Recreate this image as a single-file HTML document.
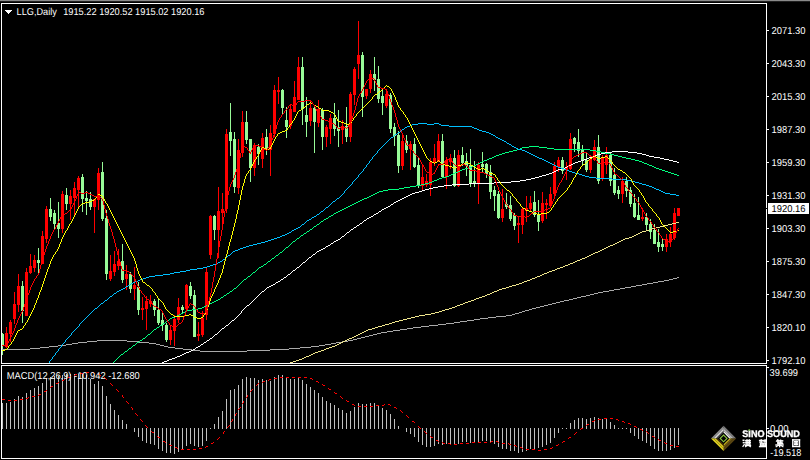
<!DOCTYPE html><html><head><meta charset="utf-8"><title>LLG Daily</title><style>
html,body{margin:0;padding:0;background:#000;}
body{width:810px;height:460px;overflow:hidden;position:relative;font-family:"Liberation Sans",sans-serif;}
svg{position:absolute;left:0;top:0;}
.t{position:absolute;color:#fff;font-size:9.5px;line-height:10px;white-space:pre;letter-spacing:-0.2px;}
</style></head><body>
<svg width="810" height="460" viewBox="0 0 810 460" shape-rendering="crispEdges">
<rect x="0" y="0" width="810" height="460" fill="#000"/>
<rect x="0" y="0" width="810" height="1" fill="#8a8a8a"/>
<rect x="0" y="1" width="810" height="1" fill="#202020"/>
<rect x="767" y="30" width="2" height="1" fill="#fff"/>
<rect x="767" y="63" width="2" height="1" fill="#fff"/>
<rect x="767" y="96" width="2" height="1" fill="#fff"/>
<rect x="767" y="129" width="2" height="1" fill="#fff"/>
<rect x="767" y="162" width="2" height="1" fill="#fff"/>
<rect x="767" y="195" width="2" height="1" fill="#fff"/>
<rect x="767" y="228" width="2" height="1" fill="#fff"/>
<rect x="767" y="261" width="2" height="1" fill="#fff"/>
<rect x="767" y="294" width="2" height="1" fill="#fff"/>
<rect x="767" y="327" width="2" height="1" fill="#fff"/>
<rect x="767" y="360" width="2" height="1" fill="#fff"/>
<rect x="767" y="367" width="2" height="1" fill="#fff"/>
<rect x="767" y="428" width="2" height="1" fill="#fff"/>
<polygon points="5,10 12.5,10 8.75,14.3" fill="#fff"/>
<rect x="768" y="203" width="41" height="11" fill="#fff"/><rect x="766" y="208" width="1" height="1" fill="#000"/>
<rect x="2" y="403" width="1" height="26" fill="#c0c0c0"/>
<rect x="6" y="403" width="1" height="26" fill="#c0c0c0"/>
<rect x="10" y="402" width="1" height="27" fill="#c0c0c0"/>
<rect x="14" y="399" width="1" height="30" fill="#c0c0c0"/>
<rect x="18" y="396" width="1" height="33" fill="#c0c0c0"/>
<rect x="22" y="397" width="1" height="32" fill="#c0c0c0"/>
<rect x="26" y="393" width="1" height="36" fill="#c0c0c0"/>
<rect x="30" y="390" width="1" height="39" fill="#c0c0c0"/>
<rect x="34" y="388" width="1" height="41" fill="#c0c0c0"/>
<rect x="38" y="386" width="1" height="43" fill="#c0c0c0"/>
<rect x="42" y="383" width="1" height="46" fill="#c0c0c0"/>
<rect x="46" y="378" width="1" height="51" fill="#c0c0c0"/>
<rect x="50" y="377" width="1" height="52" fill="#c0c0c0"/>
<rect x="54" y="376" width="1" height="53" fill="#c0c0c0"/>
<rect x="58" y="376" width="1" height="53" fill="#c0c0c0"/>
<rect x="62" y="375" width="1" height="54" fill="#c0c0c0"/>
<rect x="66" y="374" width="1" height="55" fill="#c0c0c0"/>
<rect x="70" y="374" width="1" height="55" fill="#c0c0c0"/>
<rect x="74" y="374" width="1" height="55" fill="#c0c0c0"/>
<rect x="78" y="374" width="1" height="55" fill="#c0c0c0"/>
<rect x="82" y="374" width="1" height="55" fill="#c0c0c0"/>
<rect x="86" y="375" width="1" height="54" fill="#c0c0c0"/>
<rect x="90" y="379" width="1" height="50" fill="#c0c0c0"/>
<rect x="94" y="384" width="1" height="45" fill="#c0c0c0"/>
<rect x="98" y="381" width="1" height="48" fill="#c0c0c0"/>
<rect x="102" y="386" width="1" height="43" fill="#c0c0c0"/>
<rect x="106" y="396" width="1" height="33" fill="#c0c0c0"/>
<rect x="110" y="404" width="1" height="25" fill="#c0c0c0"/>
<rect x="114" y="410" width="1" height="19" fill="#c0c0c0"/>
<rect x="118" y="415" width="1" height="14" fill="#c0c0c0"/>
<rect x="122" y="420" width="1" height="9" fill="#c0c0c0"/>
<rect x="126" y="424" width="1" height="5" fill="#c0c0c0"/>
<rect x="134" y="428" width="1" height="4" fill="#c0c0c0"/>
<rect x="138" y="428" width="1" height="9" fill="#c0c0c0"/>
<rect x="142" y="428" width="1" height="13" fill="#c0c0c0"/>
<rect x="146" y="428" width="1" height="15" fill="#c0c0c0"/>
<rect x="150" y="428" width="1" height="16" fill="#c0c0c0"/>
<rect x="154" y="428" width="1" height="17" fill="#c0c0c0"/>
<rect x="158" y="428" width="1" height="21" fill="#c0c0c0"/>
<rect x="162" y="428" width="1" height="23" fill="#c0c0c0"/>
<rect x="166" y="428" width="1" height="25" fill="#c0c0c0"/>
<rect x="170" y="428" width="1" height="25" fill="#c0c0c0"/>
<rect x="174" y="428" width="1" height="26" fill="#c0c0c0"/>
<rect x="178" y="428" width="1" height="24" fill="#c0c0c0"/>
<rect x="182" y="428" width="1" height="22" fill="#c0c0c0"/>
<rect x="186" y="428" width="1" height="18" fill="#c0c0c0"/>
<rect x="190" y="428" width="1" height="16" fill="#c0c0c0"/>
<rect x="194" y="428" width="1" height="18" fill="#c0c0c0"/>
<rect x="198" y="428" width="1" height="19" fill="#c0c0c0"/>
<rect x="202" y="428" width="1" height="18" fill="#c0c0c0"/>
<rect x="206" y="428" width="1" height="13" fill="#c0c0c0"/>
<rect x="210" y="428" width="1" height="1" fill="#c0c0c0"/>
<rect x="214" y="424" width="1" height="5" fill="#c0c0c0"/>
<rect x="218" y="417" width="1" height="12" fill="#c0c0c0"/>
<rect x="222" y="411" width="1" height="18" fill="#c0c0c0"/>
<rect x="226" y="399" width="1" height="30" fill="#c0c0c0"/>
<rect x="230" y="390" width="1" height="39" fill="#c0c0c0"/>
<rect x="234" y="389" width="1" height="40" fill="#c0c0c0"/>
<rect x="238" y="385" width="1" height="44" fill="#c0c0c0"/>
<rect x="242" y="379" width="1" height="50" fill="#c0c0c0"/>
<rect x="246" y="377" width="1" height="52" fill="#c0c0c0"/>
<rect x="250" y="378" width="1" height="51" fill="#c0c0c0"/>
<rect x="254" y="378" width="1" height="51" fill="#c0c0c0"/>
<rect x="258" y="380" width="1" height="49" fill="#c0c0c0"/>
<rect x="262" y="379" width="1" height="50" fill="#c0c0c0"/>
<rect x="266" y="380" width="1" height="49" fill="#c0c0c0"/>
<rect x="270" y="381" width="1" height="48" fill="#c0c0c0"/>
<rect x="274" y="377" width="1" height="52" fill="#c0c0c0"/>
<rect x="278" y="375" width="1" height="54" fill="#c0c0c0"/>
<rect x="282" y="375" width="1" height="54" fill="#c0c0c0"/>
<rect x="286" y="377" width="1" height="52" fill="#c0c0c0"/>
<rect x="290" y="379" width="1" height="50" fill="#c0c0c0"/>
<rect x="294" y="379" width="1" height="50" fill="#c0c0c0"/>
<rect x="298" y="378" width="1" height="51" fill="#c0c0c0"/>
<rect x="302" y="380" width="1" height="49" fill="#c0c0c0"/>
<rect x="306" y="384" width="1" height="45" fill="#c0c0c0"/>
<rect x="310" y="387" width="1" height="42" fill="#c0c0c0"/>
<rect x="314" y="390" width="1" height="39" fill="#c0c0c0"/>
<rect x="318" y="393" width="1" height="36" fill="#c0c0c0"/>
<rect x="322" y="397" width="1" height="32" fill="#c0c0c0"/>
<rect x="326" y="401" width="1" height="28" fill="#c0c0c0"/>
<rect x="330" y="403" width="1" height="26" fill="#c0c0c0"/>
<rect x="334" y="405" width="1" height="24" fill="#c0c0c0"/>
<rect x="338" y="408" width="1" height="21" fill="#c0c0c0"/>
<rect x="342" y="410" width="1" height="19" fill="#c0c0c0"/>
<rect x="346" y="413" width="1" height="16" fill="#c0c0c0"/>
<rect x="350" y="411" width="1" height="18" fill="#c0c0c0"/>
<rect x="354" y="407" width="1" height="22" fill="#c0c0c0"/>
<rect x="358" y="403" width="1" height="26" fill="#c0c0c0"/>
<rect x="362" y="404" width="1" height="25" fill="#c0c0c0"/>
<rect x="366" y="404" width="1" height="25" fill="#c0c0c0"/>
<rect x="370" y="403" width="1" height="26" fill="#c0c0c0"/>
<rect x="374" y="403" width="1" height="26" fill="#c0c0c0"/>
<rect x="378" y="406" width="1" height="23" fill="#c0c0c0"/>
<rect x="382" y="408" width="1" height="21" fill="#c0c0c0"/>
<rect x="386" y="410" width="1" height="19" fill="#c0c0c0"/>
<rect x="390" y="414" width="1" height="15" fill="#c0c0c0"/>
<rect x="394" y="419" width="1" height="10" fill="#c0c0c0"/>
<rect x="398" y="426" width="1" height="3" fill="#c0c0c0"/>
<rect x="406" y="428" width="1" height="4" fill="#c0c0c0"/>
<rect x="410" y="428" width="1" height="6" fill="#c0c0c0"/>
<rect x="414" y="428" width="1" height="9" fill="#c0c0c0"/>
<rect x="418" y="428" width="1" height="14" fill="#c0c0c0"/>
<rect x="422" y="428" width="1" height="17" fill="#c0c0c0"/>
<rect x="426" y="428" width="1" height="19" fill="#c0c0c0"/>
<rect x="430" y="428" width="1" height="19" fill="#c0c0c0"/>
<rect x="434" y="428" width="1" height="18" fill="#c0c0c0"/>
<rect x="438" y="428" width="1" height="16" fill="#c0c0c0"/>
<rect x="442" y="428" width="1" height="17" fill="#c0c0c0"/>
<rect x="446" y="428" width="1" height="16" fill="#c0c0c0"/>
<rect x="450" y="428" width="1" height="16" fill="#c0c0c0"/>
<rect x="454" y="428" width="1" height="17" fill="#c0c0c0"/>
<rect x="458" y="428" width="1" height="16" fill="#c0c0c0"/>
<rect x="462" y="428" width="1" height="14" fill="#c0c0c0"/>
<rect x="466" y="428" width="1" height="14" fill="#c0c0c0"/>
<rect x="470" y="428" width="1" height="15" fill="#c0c0c0"/>
<rect x="474" y="428" width="1" height="15" fill="#c0c0c0"/>
<rect x="478" y="428" width="1" height="14" fill="#c0c0c0"/>
<rect x="482" y="428" width="1" height="13" fill="#c0c0c0"/>
<rect x="486" y="428" width="1" height="13" fill="#c0c0c0"/>
<rect x="490" y="428" width="1" height="14" fill="#c0c0c0"/>
<rect x="494" y="428" width="1" height="16" fill="#c0c0c0"/>
<rect x="498" y="428" width="1" height="19" fill="#c0c0c0"/>
<rect x="502" y="428" width="1" height="21" fill="#c0c0c0"/>
<rect x="506" y="428" width="1" height="21" fill="#c0c0c0"/>
<rect x="510" y="428" width="1" height="23" fill="#c0c0c0"/>
<rect x="514" y="428" width="1" height="23" fill="#c0c0c0"/>
<rect x="518" y="428" width="1" height="25" fill="#c0c0c0"/>
<rect x="522" y="428" width="1" height="24" fill="#c0c0c0"/>
<rect x="526" y="428" width="1" height="23" fill="#c0c0c0"/>
<rect x="530" y="428" width="1" height="21" fill="#c0c0c0"/>
<rect x="534" y="428" width="1" height="21" fill="#c0c0c0"/>
<rect x="538" y="428" width="1" height="20" fill="#c0c0c0"/>
<rect x="542" y="428" width="1" height="19" fill="#c0c0c0"/>
<rect x="546" y="428" width="1" height="17" fill="#c0c0c0"/>
<rect x="550" y="428" width="1" height="15" fill="#c0c0c0"/>
<rect x="554" y="428" width="1" height="10" fill="#c0c0c0"/>
<rect x="558" y="428" width="1" height="5" fill="#c0c0c0"/>
<rect x="562" y="428" width="1" height="1" fill="#c0c0c0"/>
<rect x="566" y="428" width="1" height="1" fill="#c0c0c0"/>
<rect x="570" y="423" width="1" height="6" fill="#c0c0c0"/>
<rect x="574" y="420" width="1" height="9" fill="#c0c0c0"/>
<rect x="578" y="418" width="1" height="11" fill="#c0c0c0"/>
<rect x="582" y="418" width="1" height="11" fill="#c0c0c0"/>
<rect x="586" y="419" width="1" height="10" fill="#c0c0c0"/>
<rect x="590" y="418" width="1" height="11" fill="#c0c0c0"/>
<rect x="594" y="417" width="1" height="12" fill="#c0c0c0"/>
<rect x="598" y="418" width="1" height="11" fill="#c0c0c0"/>
<rect x="602" y="419" width="1" height="10" fill="#c0c0c0"/>
<rect x="606" y="419" width="1" height="10" fill="#c0c0c0"/>
<rect x="610" y="422" width="1" height="7" fill="#c0c0c0"/>
<rect x="614" y="425" width="1" height="4" fill="#c0c0c0"/>
<rect x="618" y="428" width="1" height="1" fill="#c0c0c0"/>
<rect x="622" y="428" width="1" height="1" fill="#c0c0c0"/>
<rect x="626" y="428" width="1" height="1" fill="#c0c0c0"/>
<rect x="630" y="428" width="1" height="5" fill="#c0c0c0"/>
<rect x="634" y="428" width="1" height="8" fill="#c0c0c0"/>
<rect x="638" y="428" width="1" height="11" fill="#c0c0c0"/>
<rect x="642" y="428" width="1" height="13" fill="#c0c0c0"/>
<rect x="646" y="428" width="1" height="15" fill="#c0c0c0"/>
<rect x="650" y="428" width="1" height="18" fill="#c0c0c0"/>
<rect x="654" y="428" width="1" height="21" fill="#c0c0c0"/>
<rect x="658" y="428" width="1" height="23" fill="#c0c0c0"/>
<rect x="662" y="428" width="1" height="23" fill="#c0c0c0"/>
<rect x="666" y="428" width="1" height="23" fill="#c0c0c0"/>
<rect x="670" y="428" width="1" height="22" fill="#c0c0c0"/>
<rect x="674" y="428" width="1" height="20" fill="#c0c0c0"/>
<rect x="678" y="428" width="1" height="17" fill="#c0c0c0"/>
<rect x="2" y="333" width="1" height="22" fill="#98fb98"/>
<rect x="1" y="334" width="3" height="12" fill="#98fb98"/>
<rect x="6" y="327" width="1" height="21" fill="#ff0000"/>
<rect x="5" y="333" width="3" height="14" fill="#ff0000"/>
<rect x="10" y="320" width="1" height="22" fill="#ff0000"/>
<rect x="9" y="322" width="3" height="12" fill="#ff0000"/>
<rect x="14" y="292" width="1" height="32" fill="#ff0000"/>
<rect x="13" y="304" width="3" height="15" fill="#ff0000"/>
<rect x="18" y="274" width="1" height="38" fill="#ff0000"/>
<rect x="17" y="286" width="3" height="19" fill="#ff0000"/>
<rect x="22" y="281" width="1" height="42" fill="#98fb98"/>
<rect x="21" y="286" width="3" height="25" fill="#98fb98"/>
<rect x="26" y="268" width="1" height="48" fill="#ff0000"/>
<rect x="25" y="272" width="3" height="44" fill="#ff0000"/>
<rect x="30" y="254" width="1" height="20" fill="#ff0000"/>
<rect x="29" y="266" width="3" height="7" fill="#ff0000"/>
<rect x="34" y="255" width="1" height="17" fill="#ff0000"/>
<rect x="33" y="260" width="3" height="8" fill="#ff0000"/>
<rect x="38" y="248" width="1" height="25" fill="#98fb98"/>
<rect x="37" y="260" width="3" height="3" fill="#98fb98"/>
<rect x="42" y="231" width="1" height="33" fill="#ff0000"/>
<rect x="41" y="236" width="3" height="28" fill="#ff0000"/>
<rect x="46" y="206" width="1" height="37" fill="#ff0000"/>
<rect x="45" y="209" width="3" height="30" fill="#ff0000"/>
<rect x="50" y="198" width="1" height="23" fill="#98fb98"/>
<rect x="49" y="209" width="3" height="8" fill="#98fb98"/>
<rect x="54" y="210" width="1" height="19" fill="#98fb98"/>
<rect x="53" y="213" width="3" height="11" fill="#98fb98"/>
<rect x="58" y="202" width="1" height="36" fill="#98fb98"/>
<rect x="57" y="223" width="3" height="6" fill="#98fb98"/>
<rect x="62" y="191" width="1" height="42" fill="#ff0000"/>
<rect x="61" y="194" width="3" height="35" fill="#ff0000"/>
<rect x="66" y="188" width="1" height="22" fill="#98fb98"/>
<rect x="65" y="195" width="3" height="9" fill="#98fb98"/>
<rect x="70" y="190" width="1" height="30" fill="#ff0000"/>
<rect x="69" y="196" width="3" height="8" fill="#ff0000"/>
<rect x="74" y="182" width="1" height="33" fill="#ff0000"/>
<rect x="73" y="188" width="3" height="10" fill="#ff0000"/>
<rect x="78" y="176" width="1" height="32" fill="#ff0000"/>
<rect x="77" y="178" width="3" height="12" fill="#ff0000"/>
<rect x="82" y="174" width="1" height="38" fill="#98fb98"/>
<rect x="81" y="177" width="3" height="22" fill="#98fb98"/>
<rect x="86" y="191" width="1" height="24" fill="#98fb98"/>
<rect x="85" y="198" width="3" height="3" fill="#98fb98"/>
<rect x="90" y="192" width="1" height="18" fill="#98fb98"/>
<rect x="89" y="199" width="3" height="8" fill="#98fb98"/>
<rect x="94" y="199" width="1" height="34" fill="#ff0000"/>
<rect x="93" y="199" width="3" height="8" fill="#ff0000"/>
<rect x="98" y="168" width="1" height="42" fill="#ff0000"/>
<rect x="97" y="173" width="3" height="27" fill="#ff0000"/>
<rect x="102" y="162" width="1" height="59" fill="#98fb98"/>
<rect x="101" y="172" width="3" height="47" fill="#98fb98"/>
<rect x="106" y="210" width="1" height="70" fill="#98fb98"/>
<rect x="105" y="218" width="3" height="56" fill="#98fb98"/>
<rect x="110" y="255" width="1" height="26" fill="#ff0000"/>
<rect x="109" y="271" width="3" height="8" fill="#ff0000"/>
<rect x="114" y="251" width="1" height="25" fill="#ff0000"/>
<rect x="113" y="264" width="3" height="8" fill="#ff0000"/>
<rect x="118" y="249" width="1" height="21" fill="#ff0000"/>
<rect x="117" y="261" width="3" height="5" fill="#ff0000"/>
<rect x="122" y="244" width="1" height="39" fill="#98fb98"/>
<rect x="121" y="261" width="3" height="19" fill="#98fb98"/>
<rect x="126" y="265" width="1" height="25" fill="#ff0000"/>
<rect x="125" y="274" width="3" height="5" fill="#ff0000"/>
<rect x="130" y="272" width="1" height="21" fill="#98fb98"/>
<rect x="129" y="274" width="3" height="15" fill="#98fb98"/>
<rect x="134" y="267" width="1" height="33" fill="#ff0000"/>
<rect x="133" y="285" width="3" height="4" fill="#ff0000"/>
<rect x="138" y="282" width="1" height="33" fill="#98fb98"/>
<rect x="137" y="287" width="3" height="23" fill="#98fb98"/>
<rect x="142" y="297" width="1" height="23" fill="#ff0000"/>
<rect x="141" y="308" width="3" height="2" fill="#ff0000"/>
<rect x="146" y="296" width="1" height="34" fill="#ff0000"/>
<rect x="145" y="301" width="3" height="8" fill="#ff0000"/>
<rect x="150" y="295" width="1" height="12" fill="#ff0000"/>
<rect x="149" y="301" width="3" height="3" fill="#ff0000"/>
<rect x="154" y="299" width="1" height="17" fill="#98fb98"/>
<rect x="153" y="301" width="3" height="9" fill="#98fb98"/>
<rect x="158" y="298" width="1" height="27" fill="#98fb98"/>
<rect x="157" y="310" width="3" height="13" fill="#98fb98"/>
<rect x="162" y="312" width="1" height="19" fill="#98fb98"/>
<rect x="161" y="320" width="3" height="5" fill="#98fb98"/>
<rect x="166" y="323" width="1" height="19" fill="#98fb98"/>
<rect x="165" y="325" width="3" height="15" fill="#98fb98"/>
<rect x="170" y="325" width="1" height="20" fill="#ff0000"/>
<rect x="169" y="330" width="3" height="10" fill="#ff0000"/>
<rect x="174" y="315" width="1" height="31" fill="#ff0000"/>
<rect x="173" y="319" width="3" height="12" fill="#ff0000"/>
<rect x="178" y="298" width="1" height="25" fill="#ff0000"/>
<rect x="177" y="307" width="3" height="13" fill="#ff0000"/>
<rect x="182" y="305" width="1" height="9" fill="#98fb98"/>
<rect x="181" y="307" width="3" height="3" fill="#98fb98"/>
<rect x="186" y="284" width="1" height="26" fill="#ff0000"/>
<rect x="185" y="285" width="3" height="24" fill="#ff0000"/>
<rect x="190" y="282" width="1" height="17" fill="#98fb98"/>
<rect x="189" y="286" width="3" height="10" fill="#98fb98"/>
<rect x="194" y="290" width="1" height="47" fill="#98fb98"/>
<rect x="193" y="295" width="3" height="42" fill="#98fb98"/>
<rect x="198" y="322" width="1" height="19" fill="#ff0000"/>
<rect x="197" y="334" width="3" height="2" fill="#ff0000"/>
<rect x="202" y="311" width="1" height="26" fill="#ff0000"/>
<rect x="201" y="318" width="3" height="17" fill="#ff0000"/>
<rect x="206" y="268" width="1" height="52" fill="#ff0000"/>
<rect x="205" y="272" width="3" height="43" fill="#ff0000"/>
<rect x="210" y="215" width="1" height="44" fill="#ff0000"/>
<rect x="209" y="216" width="3" height="39" fill="#ff0000"/>
<rect x="214" y="215" width="1" height="25" fill="#98fb98"/>
<rect x="213" y="216" width="3" height="14" fill="#98fb98"/>
<rect x="218" y="187" width="1" height="71" fill="#ff0000"/>
<rect x="217" y="211" width="3" height="19" fill="#ff0000"/>
<rect x="222" y="193" width="1" height="37" fill="#ff0000"/>
<rect x="221" y="209" width="3" height="4" fill="#ff0000"/>
<rect x="226" y="129" width="1" height="84" fill="#ff0000"/>
<rect x="225" y="134" width="3" height="75" fill="#ff0000"/>
<rect x="230" y="103" width="1" height="53" fill="#98fb98"/>
<rect x="229" y="132" width="3" height="9" fill="#98fb98"/>
<rect x="234" y="132" width="1" height="61" fill="#98fb98"/>
<rect x="233" y="139" width="3" height="48" fill="#98fb98"/>
<rect x="238" y="139" width="1" height="55" fill="#ff0000"/>
<rect x="237" y="150" width="3" height="38" fill="#ff0000"/>
<rect x="242" y="111" width="1" height="46" fill="#ff0000"/>
<rect x="241" y="122" width="3" height="31" fill="#ff0000"/>
<rect x="246" y="111" width="1" height="33" fill="#98fb98"/>
<rect x="245" y="122" width="3" height="18" fill="#98fb98"/>
<rect x="250" y="139" width="1" height="43" fill="#98fb98"/>
<rect x="249" y="139" width="3" height="29" fill="#98fb98"/>
<rect x="254" y="143" width="1" height="33" fill="#ff0000"/>
<rect x="253" y="145" width="3" height="23" fill="#ff0000"/>
<rect x="258" y="144" width="1" height="21" fill="#98fb98"/>
<rect x="257" y="147" width="3" height="7" fill="#98fb98"/>
<rect x="262" y="133" width="1" height="35" fill="#ff0000"/>
<rect x="261" y="138" width="3" height="21" fill="#ff0000"/>
<rect x="266" y="129" width="1" height="26" fill="#98fb98"/>
<rect x="265" y="137" width="3" height="13" fill="#98fb98"/>
<rect x="270" y="125" width="1" height="51" fill="#ff0000"/>
<rect x="269" y="133" width="3" height="17" fill="#ff0000"/>
<rect x="274" y="85" width="1" height="52" fill="#ff0000"/>
<rect x="273" y="90" width="3" height="44" fill="#ff0000"/>
<rect x="278" y="77" width="1" height="27" fill="#ff0000"/>
<rect x="277" y="90" width="3" height="2" fill="#ff0000"/>
<rect x="282" y="89" width="1" height="25" fill="#98fb98"/>
<rect x="281" y="90" width="3" height="18" fill="#98fb98"/>
<rect x="286" y="107" width="1" height="31" fill="#98fb98"/>
<rect x="285" y="120" width="3" height="7" fill="#98fb98"/>
<rect x="290" y="105" width="1" height="24" fill="#ff0000"/>
<rect x="289" y="109" width="3" height="17" fill="#ff0000"/>
<rect x="294" y="81" width="1" height="31" fill="#ff0000"/>
<rect x="293" y="97" width="3" height="15" fill="#ff0000"/>
<rect x="298" y="57" width="1" height="43" fill="#ff0000"/>
<rect x="297" y="67" width="3" height="33" fill="#ff0000"/>
<rect x="302" y="57" width="1" height="68" fill="#98fb98"/>
<rect x="301" y="67" width="3" height="42" fill="#98fb98"/>
<rect x="306" y="97" width="1" height="40" fill="#98fb98"/>
<rect x="305" y="115" width="3" height="7" fill="#98fb98"/>
<rect x="310" y="100" width="1" height="26" fill="#ff0000"/>
<rect x="309" y="108" width="3" height="13" fill="#ff0000"/>
<rect x="314" y="106" width="1" height="47" fill="#98fb98"/>
<rect x="313" y="108" width="3" height="14" fill="#98fb98"/>
<rect x="318" y="100" width="1" height="27" fill="#ff0000"/>
<rect x="317" y="109" width="3" height="14" fill="#ff0000"/>
<rect x="322" y="108" width="1" height="42" fill="#98fb98"/>
<rect x="321" y="110" width="3" height="27" fill="#98fb98"/>
<rect x="326" y="125" width="1" height="22" fill="#ff0000"/>
<rect x="325" y="127" width="3" height="10" fill="#ff0000"/>
<rect x="330" y="114" width="1" height="30" fill="#ff0000"/>
<rect x="329" y="118" width="3" height="11" fill="#ff0000"/>
<rect x="334" y="103" width="1" height="33" fill="#98fb98"/>
<rect x="333" y="118" width="3" height="11" fill="#98fb98"/>
<rect x="338" y="110" width="1" height="37" fill="#98fb98"/>
<rect x="337" y="127" width="3" height="4" fill="#98fb98"/>
<rect x="342" y="120" width="1" height="24" fill="#ff0000"/>
<rect x="341" y="126" width="3" height="4" fill="#ff0000"/>
<rect x="346" y="107" width="1" height="35" fill="#98fb98"/>
<rect x="345" y="126" width="3" height="11" fill="#98fb98"/>
<rect x="350" y="92" width="1" height="50" fill="#ff0000"/>
<rect x="349" y="94" width="3" height="43" fill="#ff0000"/>
<rect x="354" y="67" width="1" height="38" fill="#ff0000"/>
<rect x="353" y="69" width="3" height="26" fill="#ff0000"/>
<rect x="358" y="21" width="1" height="58" fill="#ff0000"/>
<rect x="357" y="55" width="3" height="9" fill="#ff0000"/>
<rect x="362" y="52" width="1" height="65" fill="#98fb98"/>
<rect x="361" y="55" width="3" height="42" fill="#98fb98"/>
<rect x="366" y="89" width="1" height="10" fill="#ff0000"/>
<rect x="365" y="89" width="3" height="7" fill="#ff0000"/>
<rect x="370" y="70" width="1" height="23" fill="#ff0000"/>
<rect x="369" y="74" width="3" height="15" fill="#ff0000"/>
<rect x="374" y="57" width="1" height="34" fill="#98fb98"/>
<rect x="373" y="74" width="3" height="6" fill="#98fb98"/>
<rect x="378" y="66" width="1" height="37" fill="#98fb98"/>
<rect x="377" y="79" width="3" height="20" fill="#98fb98"/>
<rect x="382" y="90" width="1" height="25" fill="#98fb98"/>
<rect x="381" y="96" width="3" height="7" fill="#98fb98"/>
<rect x="386" y="89" width="1" height="19" fill="#ff0000"/>
<rect x="385" y="94" width="3" height="12" fill="#ff0000"/>
<rect x="390" y="93" width="1" height="40" fill="#98fb98"/>
<rect x="389" y="95" width="3" height="34" fill="#98fb98"/>
<rect x="394" y="123" width="1" height="23" fill="#98fb98"/>
<rect x="393" y="127" width="3" height="9" fill="#98fb98"/>
<rect x="398" y="131" width="1" height="42" fill="#98fb98"/>
<rect x="397" y="135" width="3" height="31" fill="#98fb98"/>
<rect x="402" y="135" width="1" height="35" fill="#ff0000"/>
<rect x="401" y="141" width="3" height="25" fill="#ff0000"/>
<rect x="406" y="135" width="1" height="18" fill="#98fb98"/>
<rect x="405" y="141" width="3" height="9" fill="#98fb98"/>
<rect x="410" y="141" width="1" height="29" fill="#ff0000"/>
<rect x="409" y="144" width="3" height="5" fill="#ff0000"/>
<rect x="414" y="138" width="1" height="30" fill="#98fb98"/>
<rect x="413" y="144" width="3" height="23" fill="#98fb98"/>
<rect x="418" y="158" width="1" height="30" fill="#98fb98"/>
<rect x="417" y="165" width="3" height="21" fill="#98fb98"/>
<rect x="422" y="164" width="1" height="27" fill="#ff0000"/>
<rect x="421" y="177" width="3" height="9" fill="#ff0000"/>
<rect x="426" y="174" width="1" height="13" fill="#ff0000"/>
<rect x="425" y="181" width="3" height="4" fill="#ff0000"/>
<rect x="430" y="158" width="1" height="38" fill="#ff0000"/>
<rect x="429" y="162" width="3" height="23" fill="#ff0000"/>
<rect x="434" y="144" width="1" height="22" fill="#ff0000"/>
<rect x="433" y="158" width="3" height="5" fill="#ff0000"/>
<rect x="438" y="134" width="1" height="28" fill="#ff0000"/>
<rect x="437" y="141" width="3" height="20" fill="#ff0000"/>
<rect x="442" y="134" width="1" height="43" fill="#98fb98"/>
<rect x="441" y="141" width="3" height="36" fill="#98fb98"/>
<rect x="446" y="157" width="1" height="32" fill="#ff0000"/>
<rect x="445" y="160" width="3" height="17" fill="#ff0000"/>
<rect x="450" y="154" width="1" height="15" fill="#ff0000"/>
<rect x="449" y="158" width="3" height="4" fill="#ff0000"/>
<rect x="454" y="150" width="1" height="37" fill="#98fb98"/>
<rect x="453" y="158" width="3" height="28" fill="#98fb98"/>
<rect x="458" y="150" width="1" height="37" fill="#ff0000"/>
<rect x="457" y="155" width="3" height="31" fill="#ff0000"/>
<rect x="462" y="147" width="1" height="19" fill="#98fb98"/>
<rect x="461" y="155" width="3" height="8" fill="#98fb98"/>
<rect x="466" y="153" width="1" height="23" fill="#98fb98"/>
<rect x="465" y="161" width="3" height="5" fill="#98fb98"/>
<rect x="470" y="149" width="1" height="38" fill="#98fb98"/>
<rect x="469" y="165" width="3" height="19" fill="#98fb98"/>
<rect x="474" y="161" width="1" height="26" fill="#98fb98"/>
<rect x="473" y="181" width="3" height="3" fill="#98fb98"/>
<rect x="478" y="162" width="1" height="42" fill="#ff0000"/>
<rect x="477" y="165" width="3" height="19" fill="#ff0000"/>
<rect x="482" y="152" width="1" height="21" fill="#98fb98"/>
<rect x="481" y="164" width="3" height="3" fill="#98fb98"/>
<rect x="486" y="163" width="1" height="15" fill="#98fb98"/>
<rect x="485" y="164" width="3" height="10" fill="#98fb98"/>
<rect x="490" y="165" width="1" height="34" fill="#98fb98"/>
<rect x="489" y="172" width="3" height="20" fill="#98fb98"/>
<rect x="494" y="186" width="1" height="25" fill="#98fb98"/>
<rect x="493" y="190" width="3" height="6" fill="#98fb98"/>
<rect x="498" y="191" width="1" height="28" fill="#98fb98"/>
<rect x="497" y="194" width="3" height="24" fill="#98fb98"/>
<rect x="502" y="189" width="1" height="33" fill="#ff0000"/>
<rect x="501" y="209" width="3" height="9" fill="#ff0000"/>
<rect x="506" y="193" width="1" height="16" fill="#98fb98"/>
<rect x="505" y="204" width="3" height="3" fill="#98fb98"/>
<rect x="510" y="196" width="1" height="25" fill="#98fb98"/>
<rect x="509" y="205" width="3" height="14" fill="#98fb98"/>
<rect x="514" y="213" width="1" height="17" fill="#98fb98"/>
<rect x="513" y="215" width="3" height="11" fill="#98fb98"/>
<rect x="518" y="217" width="1" height="26" fill="#ff0000"/>
<rect x="517" y="223" width="3" height="2" fill="#ff0000"/>
<rect x="522" y="207" width="1" height="27" fill="#ff0000"/>
<rect x="521" y="209" width="3" height="16" fill="#ff0000"/>
<rect x="526" y="196" width="1" height="26" fill="#ff0000"/>
<rect x="525" y="208" width="3" height="3" fill="#ff0000"/>
<rect x="530" y="196" width="1" height="15" fill="#ff0000"/>
<rect x="529" y="203" width="3" height="6" fill="#ff0000"/>
<rect x="534" y="191" width="1" height="26" fill="#98fb98"/>
<rect x="533" y="202" width="3" height="13" fill="#98fb98"/>
<rect x="538" y="200" width="1" height="31" fill="#98fb98"/>
<rect x="537" y="214" width="3" height="8" fill="#98fb98"/>
<rect x="542" y="192" width="1" height="31" fill="#ff0000"/>
<rect x="541" y="203" width="3" height="18" fill="#ff0000"/>
<rect x="546" y="199" width="1" height="20" fill="#ff0000"/>
<rect x="545" y="203" width="3" height="2" fill="#ff0000"/>
<rect x="550" y="187" width="1" height="20" fill="#ff0000"/>
<rect x="549" y="194" width="3" height="12" fill="#ff0000"/>
<rect x="554" y="162" width="1" height="34" fill="#ff0000"/>
<rect x="553" y="166" width="3" height="28" fill="#ff0000"/>
<rect x="558" y="157" width="1" height="15" fill="#ff0000"/>
<rect x="557" y="160" width="3" height="7" fill="#ff0000"/>
<rect x="562" y="157" width="1" height="17" fill="#98fb98"/>
<rect x="561" y="160" width="3" height="11" fill="#98fb98"/>
<rect x="566" y="162" width="1" height="18" fill="#ff0000"/>
<rect x="565" y="167" width="3" height="3" fill="#ff0000"/>
<rect x="570" y="133" width="1" height="37" fill="#ff0000"/>
<rect x="569" y="139" width="3" height="30" fill="#ff0000"/>
<rect x="574" y="137" width="1" height="15" fill="#98fb98"/>
<rect x="573" y="138" width="3" height="6" fill="#98fb98"/>
<rect x="578" y="129" width="1" height="28" fill="#98fb98"/>
<rect x="577" y="142" width="3" height="9" fill="#98fb98"/>
<rect x="582" y="145" width="1" height="21" fill="#98fb98"/>
<rect x="581" y="149" width="3" height="12" fill="#98fb98"/>
<rect x="586" y="153" width="1" height="19" fill="#98fb98"/>
<rect x="585" y="160" width="3" height="10" fill="#98fb98"/>
<rect x="590" y="155" width="1" height="18" fill="#ff0000"/>
<rect x="589" y="159" width="3" height="11" fill="#ff0000"/>
<rect x="594" y="140" width="1" height="21" fill="#ff0000"/>
<rect x="593" y="147" width="3" height="13" fill="#ff0000"/>
<rect x="598" y="135" width="1" height="49" fill="#98fb98"/>
<rect x="597" y="147" width="3" height="34" fill="#98fb98"/>
<rect x="602" y="155" width="1" height="26" fill="#ff0000"/>
<rect x="601" y="158" width="3" height="21" fill="#ff0000"/>
<rect x="606" y="147" width="1" height="27" fill="#ff0000"/>
<rect x="605" y="155" width="3" height="10" fill="#ff0000"/>
<rect x="610" y="152" width="1" height="34" fill="#98fb98"/>
<rect x="609" y="155" width="3" height="26" fill="#98fb98"/>
<rect x="614" y="168" width="1" height="27" fill="#98fb98"/>
<rect x="613" y="175" width="3" height="18" fill="#98fb98"/>
<rect x="618" y="186" width="1" height="13" fill="#98fb98"/>
<rect x="617" y="190" width="3" height="4" fill="#98fb98"/>
<rect x="622" y="177" width="1" height="26" fill="#ff0000"/>
<rect x="621" y="181" width="3" height="13" fill="#ff0000"/>
<rect x="626" y="177" width="1" height="20" fill="#98fb98"/>
<rect x="625" y="181" width="3" height="10" fill="#98fb98"/>
<rect x="630" y="187" width="1" height="20" fill="#98fb98"/>
<rect x="629" y="190" width="3" height="14" fill="#98fb98"/>
<rect x="634" y="194" width="1" height="24" fill="#98fb98"/>
<rect x="633" y="203" width="3" height="14" fill="#98fb98"/>
<rect x="638" y="197" width="1" height="23" fill="#98fb98"/>
<rect x="637" y="215" width="3" height="5" fill="#98fb98"/>
<rect x="642" y="208" width="1" height="13" fill="#ff0000"/>
<rect x="641" y="217" width="3" height="2" fill="#ff0000"/>
<rect x="646" y="213" width="1" height="18" fill="#98fb98"/>
<rect x="645" y="217" width="3" height="8" fill="#98fb98"/>
<rect x="650" y="219" width="1" height="20" fill="#98fb98"/>
<rect x="649" y="224" width="3" height="8" fill="#98fb98"/>
<rect x="654" y="224" width="1" height="20" fill="#98fb98"/>
<rect x="653" y="230" width="3" height="14" fill="#98fb98"/>
<rect x="658" y="229" width="1" height="23" fill="#98fb98"/>
<rect x="657" y="242" width="3" height="5" fill="#98fb98"/>
<rect x="662" y="238" width="1" height="13" fill="#98fb98"/>
<rect x="661" y="244" width="3" height="3" fill="#98fb98"/>
<rect x="666" y="234" width="1" height="18" fill="#ff0000"/>
<rect x="665" y="239" width="3" height="8" fill="#ff0000"/>
<rect x="670" y="227" width="1" height="20" fill="#ff0000"/>
<rect x="669" y="234" width="3" height="8" fill="#ff0000"/>
<rect x="674" y="208" width="1" height="32" fill="#ff0000"/>
<rect x="673" y="213" width="3" height="25" fill="#ff0000"/>
<rect x="678" y="208" width="1" height="8" fill="#ff0000"/>
<rect x="677" y="208" width="3" height="8" fill="#ff0000"/>
<rect x="1" y="3" width="766" height="1" fill="#fff"/>
<rect x="1" y="363" width="766" height="1" fill="#fff"/>
<rect x="1" y="365" width="766" height="1" fill="#fff"/>
<rect x="1" y="458" width="766" height="1" fill="#fff"/>
<rect x="1" y="3" width="1" height="361" fill="#fff"/>
<rect x="766" y="3" width="1" height="361" fill="#fff"/>
<rect x="1" y="365" width="1" height="94" fill="#fff"/>
<rect x="766" y="365" width="1" height="94" fill="#fff"/>
<rect x="766" y="208" width="1" height="1" fill="#000"/>
</svg>
<svg width="810" height="460" viewBox="0 0 810 460" shape-rendering="crispEdges">
<path d="M677 277h2v1h-2zM673 278h4v1h-4zM669 279h4v1h-4zM664 280h5v1h-5zM658 281h6v1h-6zM653 282h5v1h-5zM647 283h6v1h-6zM642 284h5v1h-5zM636 285h6v1h-6zM631 286h5v1h-5zM625 287h6v1h-6zM620 288h5v1h-5zM614 289h6v1h-6zM609 290h5v1h-5zM603 291h6v1h-6zM598 292h5v1h-5zM594 293h4v1h-4zM590 294h4v1h-4zM586 295h4v1h-4zM581 296h5v1h-5zM577 297h4v1h-4zM573 298h4v1h-4zM569 299h4v1h-4zM564 300h5v1h-5zM560 301h4v1h-4zM556 302h4v1h-4zM552 303h4v1h-4zM548 304h4v1h-4zM544 305h4v1h-4zM540 306h4v1h-4zM536 307h4v1h-4zM532 308h4v1h-4zM529 309h3v1h-3zM525 310h4v1h-4zM522 311h3v1h-3zM519 312h3v1h-3zM515 313h4v1h-4zM512 314h3v1h-3zM506 315h6v1h-6zM496 316h10v1h-10zM488 317h8v1h-8zM480 318h8v1h-8zM474 319h6v1h-6zM467 320h7v1h-7zM460 321h7v1h-7zM454 322h6v1h-6zM446 323h8v1h-8zM438 324h8v1h-8zM429 325h9v1h-9zM421 326h8v1h-8zM413 327h8v1h-8zM407 328h6v1h-6zM400 329h7v1h-7zM393 330h7v1h-7zM387 331h6v1h-6zM381 332h6v1h-6zM377 333h4v1h-4zM373 334h4v1h-4zM369 335h4v1h-4zM365 336h4v1h-4zM361 337h4v1h-4zM357 338h4v1h-4zM353 339h4v1h-4zM97 340h30v1h-30zM348 340h5v1h-5zM87 341h10v1h-10zM127 341h12v1h-12zM342 341h6v1h-6zM78 342h9v1h-9zM139 342h10v1h-10zM336 342h6v1h-6zM72 343h6v1h-6zM149 343h7v1h-7zM331 343h5v1h-5zM66 344h6v1h-6zM156 344h4v1h-4zM325 344h6v1h-6zM58 345h8v1h-8zM160 345h4v1h-4zM319 345h6v1h-6zM49 346h9v1h-9zM164 346h4v1h-4zM311 346h8v1h-8zM40 347h9v1h-9zM168 347h7v1h-7zM300 347h11v1h-11zM30 348h10v1h-10zM175 348h8v1h-8zM289 348h11v1h-11zM2 349h28v1h-28zM183 349h9v1h-9zM270 349h19v1h-19zM192 350h8v1h-8zM247 350h23v1h-23zM200 351h47v1h-47z" fill="#a9a9a9"/>
<path d="M676 222h3v1h-3zM672 223h4v1h-4zM668 224h4v1h-4zM664 225h4v1h-4zM660 226h4v1h-4zM656 227h4v1h-4zM652 228h4v1h-4zM649 229h3v1h-3zM646 230h3v1h-3zM642 231h4v1h-4zM640 232h2v1h-2zM638 233h2v1h-2zM636 234h2v1h-2zM634 235h2v1h-2zM632 236h2v1h-2zM629 237h3v1h-3zM625 238h4v1h-4zM623 239h2v1h-2zM621 240h2v1h-2zM619 241h2v1h-2zM617 242h2v1h-2zM615 243h2v1h-2zM613 244h2v1h-2zM610 245h3v1h-3zM608 246h2v1h-2zM606 247h2v1h-2zM604 248h2v1h-2zM602 249h2v1h-2zM600 250h2v1h-2zM598 251h2v1h-2zM595 252h3v1h-3zM593 253h2v1h-2zM591 254h2v1h-2zM589 255h2v1h-2zM587 256h2v1h-2zM585 257h2v1h-2zM582 258h3v1h-3zM580 259h2v1h-2zM577 260h3v1h-3zM575 261h2v1h-2zM573 262h2v1h-2zM570 263h3v1h-3zM568 264h2v1h-2zM565 265h3v1h-3zM563 266h2v1h-2zM560 267h3v1h-3zM557 268h3v1h-3zM555 269h2v1h-2zM552 270h3v1h-3zM549 271h3v1h-3zM547 272h2v1h-2zM544 273h3v1h-3zM542 274h2v1h-2zM540 275h2v1h-2zM537 276h3v1h-3zM535 277h2v1h-2zM532 278h3v1h-3zM530 279h2v1h-2zM527 280h3v1h-3zM524 281h3v1h-3zM522 282h2v1h-2zM519 283h3v1h-3zM516 284h3v1h-3zM512 285h4v1h-4zM509 286h3v1h-3zM506 287h3v1h-3zM502 288h4v1h-4zM499 289h3v1h-3zM497 290h2v1h-2zM494 291h3v1h-3zM492 292h2v1h-2zM490 293h2v1h-2zM487 294h3v1h-3zM485 295h2v1h-2zM482 296h3v1h-3zM479 297h3v1h-3zM476 298h3v1h-3zM474 299h2v1h-2zM471 300h3v1h-3zM468 301h3v1h-3zM465 302h3v1h-3zM463 303h2v1h-2zM460 304h3v1h-3zM457 305h3v1h-3zM455 306h2v1h-2zM452 307h3v1h-3zM449 308h3v1h-3zM445 309h4v1h-4zM442 310h3v1h-3zM439 311h3v1h-3zM435 312h4v1h-4zM431 313h4v1h-4zM425 314h6v1h-6zM419 315h6v1h-6zM415 316h4v1h-4zM411 317h4v1h-4zM407 318h4v1h-4zM403 319h4v1h-4zM399 320h4v1h-4zM395 321h4v1h-4zM392 322h3v1h-3zM389 323h3v1h-3zM385 324h4v1h-4zM382 325h3v1h-3zM378 326h4v1h-4zM375 327h3v1h-3zM372 328h3v1h-3zM368 329h4v1h-4zM366 330h2v1h-2zM364 331h2v1h-2zM362 332h2v1h-2zM360 333h2v1h-2zM358 334h2v1h-2zM356 335h2v1h-2zM354 336h2v1h-2zM352 337h2v1h-2zM349 338h3v1h-3zM347 339h2v1h-2zM345 340h2v1h-2zM343 341h2v1h-2zM341 342h2v1h-2zM339 343h2v1h-2zM337 344h2v1h-2zM335 345h2v1h-2zM332 346h3v1h-3zM329 347h3v1h-3zM326 348h3v1h-3zM324 349h2v1h-2zM321 350h3v1h-3zM318 351h3v1h-3zM315 352h3v1h-3zM313 353h2v1h-2zM311 354h2v1h-2zM309 355h2v1h-2zM306 356h3v1h-3zM304 357h2v1h-2zM302 358h2v1h-2zM299 359h3v1h-3zM296 360h3v1h-3zM293 361h3v1h-3zM290 362h3v1h-3z" fill="#f0e68c"/>
<path d="M612 151h16v1h-16zM605 152h7v1h-7zM628 152h9v1h-9zM601 153h4v1h-4zM637 153h5v1h-5zM597 154h4v1h-4zM642 154h4v1h-4zM595 155h2v1h-2zM646 155h3v1h-3zM592 156h3v1h-3zM649 156h5v1h-5zM589 157h3v1h-3zM654 157h6v1h-6zM587 158h2v1h-2zM660 158h4v1h-4zM584 159h3v1h-3zM664 159h5v1h-5zM581 160h3v1h-3zM669 160h4v1h-4zM578 161h3v1h-3zM673 161h4v1h-4zM575 162h3v1h-3zM677 162h2v1h-2zM573 163h2v1h-2zM571 164h2v1h-2zM569 165h2v1h-2zM567 166h2v1h-2zM565 167h2v1h-2zM562 168h3v1h-3zM558 169h4v1h-4zM556 170h2v1h-2zM554 171h2v1h-2zM552 172h2v1h-2zM549 173h3v1h-3zM546 174h3v1h-3zM542 175h4v1h-4zM539 176h3v1h-3zM535 177h4v1h-4zM531 178h4v1h-4zM526 179h5v1h-5zM520 180h6v1h-6zM511 181h9v1h-9zM494 182h17v1h-17zM469 183h25v1h-25zM452 184h17v1h-17zM444 185h8v1h-8zM438 186h6v1h-6zM433 187h5v1h-5zM429 188h4v1h-4zM425 189h4v1h-4zM422 190h3v1h-3zM419 191h3v1h-3zM415 192h4v1h-4zM412 193h3v1h-3zM410 194h2v1h-2zM408 195h2v1h-2zM406 196h2v1h-2zM404 197h2v1h-2zM402 198h2v1h-2zM400 199h2v1h-2zM398 200h2v1h-2zM396 201h2v1h-2zM394 202h2v1h-2zM393 203h1v1h-1zM391 204h2v1h-2zM390 205h1v1h-1zM388 206h2v1h-2zM386 207h2v1h-2zM384 208h2v1h-2zM382 209h2v1h-2zM381 210h1v1h-1zM379 211h2v1h-2zM378 212h1v1h-1zM376 213h2v1h-2zM374 214h2v1h-2zM373 215h1v1h-1zM371 216h2v1h-2zM369 217h2v1h-2zM367 218h2v1h-2zM366 219h1v1h-1zM364 220h2v1h-2zM363 221h1v1h-1zM362 222h1v1h-1zM360 223h2v1h-2zM359 224h1v1h-1zM357 225h2v1h-2zM356 226h1v1h-1zM354 227h2v1h-2zM353 228h1v1h-1zM351 229h2v1h-2zM350 230h1v1h-1zM349 231h1v1h-1zM347 232h2v1h-2zM346 233h1v1h-1zM345 234h1v1h-1zM344 235h1v1h-1zM342 236h2v1h-2zM341 237h1v1h-1zM340 238h1v1h-1zM338 239h2v1h-2zM336 240h2v1h-2zM334 241h2v1h-2zM333 242h1v1h-1zM331 243h2v1h-2zM330 244h1v1h-1zM328 245h2v1h-2zM326 246h2v1h-2zM325 247h1v1h-1zM323 248h2v1h-2zM321 249h2v1h-2zM319 250h2v1h-2zM317 251h2v1h-2zM316 252h1v1h-1zM315 253h1v1h-1zM313 254h2v1h-2zM312 255h1v1h-1zM311 256h1v1h-1zM309 257h2v1h-2zM308 258h1v1h-1zM307 259h1v1h-1zM306 260h1v1h-1zM305 261h1v1h-1zM303 262h2v1h-2zM302 263h1v1h-1zM301 264h1v1h-1zM300 265h1v1h-1zM299 266h1v1h-1zM297 267h2v1h-2zM296 268h1v1h-1zM295 269h1v1h-1zM293 270h2v1h-2zM292 271h1v1h-1zM291 272h1v1h-1zM290 273h1v1h-1zM288 274h2v1h-2zM287 275h1v1h-1zM286 276h1v1h-1zM284 277h2v1h-2zM283 278h1v1h-1zM281 279h2v1h-2zM280 280h1v1h-1zM278 281h2v1h-2zM276 282h2v1h-2zM275 283h1v1h-1zM273 284h2v1h-2zM271 285h2v1h-2zM269 286h2v1h-2zM267 287h2v1h-2zM266 288h1v1h-1zM265 289h1v1h-1zM264 290h1v1h-1zM262 291h2v1h-2zM261 292h1v1h-1zM260 293h1v1h-1zM259 294h1v1h-1zM258 295h1v1h-1zM257 296h1v1h-1zM256 297h1v1h-1zM255 298h1v1h-1zM254 299h1v1h-1zM253 300h1v1h-1zM252 301h1v1h-1zM251 302h1v1h-1zM250 303h1v1h-1zM249 304h1v1h-1zM247 305h2v1h-2zM246 306h1v1h-1zM245 307h1v1h-1zM244 308h1v1h-1zM243 309h1v1h-1zM242 310h1v1h-1zM241 311h1v2h-1zM240 313h1v1h-1zM239 314h1v1h-1zM238 315h1v1h-1zM237 316h1v1h-1zM236 317h1v1h-1zM235 318h1v1h-1zM234 319h1v1h-1zM232 320h2v1h-2zM231 321h1v1h-1zM230 322h1v1h-1zM229 323h1v1h-1zM228 324h1v1h-1zM226 325h2v1h-2zM225 326h1v1h-1zM224 327h1v1h-1zM222 328h2v1h-2zM221 329h1v1h-1zM220 330h1v1h-1zM219 331h1v1h-1zM218 332h1v1h-1zM217 333h1v1h-1zM215 334h2v1h-2zM214 335h1v1h-1zM213 336h1v1h-1zM212 337h1v1h-1zM210 338h2v1h-2zM209 339h1v1h-1zM207 340h2v1h-2zM206 341h1v1h-1zM204 342h2v1h-2zM203 343h1v1h-1zM201 344h2v1h-2zM200 345h1v1h-1zM198 346h2v1h-2zM196 347h2v1h-2zM195 348h1v1h-1zM193 349h2v1h-2zM191 350h2v1h-2zM189 351h2v1h-2zM186 352h3v1h-3zM184 353h2v1h-2zM182 354h2v1h-2zM180 355h2v1h-2zM177 356h3v1h-3zM175 357h2v1h-2zM172 358h3v1h-3zM169 359h3v1h-3zM167 360h2v1h-2zM164 361h3v1h-3zM162 362h2v1h-2z" fill="#ffffff"/>
<path d="M529 146h10v1h-10zM522 147h7v1h-7zM539 147h8v1h-8zM520 148h2v1h-2zM547 148h7v1h-7zM517 149h3v1h-3zM554 149h36v1h-36zM513 150h4v1h-4zM590 150h6v1h-6zM509 151h4v1h-4zM596 151h5v1h-5zM505 152h4v1h-4zM601 152h4v1h-4zM502 153h3v1h-3zM605 153h5v1h-5zM499 154h3v1h-3zM610 154h4v1h-4zM496 155h3v1h-3zM614 155h4v1h-4zM494 156h2v1h-2zM618 156h4v1h-4zM492 157h2v1h-2zM622 157h4v1h-4zM489 158h3v1h-3zM626 158h5v1h-5zM487 159h2v1h-2zM631 159h4v1h-4zM484 160h3v1h-3zM635 160h4v1h-4zM482 161h2v1h-2zM639 161h3v1h-3zM480 162h2v1h-2zM642 162h2v1h-2zM478 163h2v1h-2zM644 163h3v1h-3zM476 164h2v1h-2zM647 164h2v1h-2zM474 165h2v1h-2zM649 165h3v1h-3zM472 166h2v1h-2zM652 166h2v1h-2zM469 167h3v1h-3zM654 167h2v1h-2zM465 168h4v1h-4zM656 168h3v1h-3zM462 169h3v1h-3zM659 169h3v1h-3zM460 170h2v1h-2zM662 170h3v1h-3zM458 171h2v1h-2zM665 171h3v1h-3zM455 172h3v1h-3zM668 172h3v1h-3zM453 173h2v1h-2zM671 173h3v1h-3zM451 174h2v1h-2zM674 174h3v1h-3zM449 175h2v1h-2zM677 175h2v1h-2zM446 176h3v1h-3zM442 177h4v1h-4zM439 178h3v1h-3zM437 179h2v1h-2zM434 180h3v1h-3zM432 181h2v1h-2zM429 182h3v1h-3zM425 183h4v1h-4zM421 184h4v1h-4zM416 185h5v1h-5zM410 186h6v1h-6zM404 187h6v1h-6zM399 188h5v1h-5zM388 189h11v1h-11zM383 190h5v1h-5zM379 191h4v1h-4zM377 192h2v1h-2zM375 193h2v1h-2zM373 194h2v1h-2zM371 195h2v1h-2zM369 196h2v1h-2zM367 197h2v1h-2zM364 198h3v1h-3zM362 199h2v1h-2zM360 200h2v1h-2zM358 201h2v1h-2zM356 202h2v1h-2zM354 203h2v1h-2zM352 204h2v1h-2zM350 205h2v1h-2zM348 206h2v1h-2zM346 207h2v1h-2zM344 208h2v1h-2zM342 209h2v1h-2zM340 210h2v1h-2zM338 211h2v1h-2zM336 212h2v1h-2zM334 213h2v1h-2zM333 214h1v1h-1zM331 215h2v1h-2zM329 216h2v1h-2zM328 217h1v1h-1zM326 218h2v1h-2zM324 219h2v1h-2zM323 220h1v1h-1zM321 221h2v1h-2zM320 222h1v1h-1zM319 223h1v1h-1zM317 224h2v1h-2zM316 225h1v1h-1zM314 226h2v1h-2zM313 227h1v1h-1zM312 228h1v1h-1zM310 229h2v1h-2zM309 230h1v1h-1zM307 231h2v1h-2zM306 232h1v1h-1zM304 233h2v1h-2zM303 234h1v1h-1zM301 235h2v1h-2zM300 236h1v1h-1zM299 237h1v1h-1zM297 238h2v1h-2zM296 239h1v1h-1zM295 240h1v1h-1zM293 241h2v1h-2zM292 242h1v1h-1zM291 243h1v1h-1zM290 244h1v1h-1zM289 245h1v1h-1zM288 246h1v1h-1zM286 247h2v1h-2zM285 248h1v1h-1zM284 249h1v1h-1zM283 250h1v1h-1zM282 251h1v1h-1zM280 252h2v1h-2zM279 253h1v1h-1zM278 254h1v1h-1zM276 255h2v1h-2zM275 256h1v1h-1zM274 257h1v1h-1zM272 258h2v1h-2zM271 259h1v1h-1zM270 260h1v1h-1zM268 261h2v1h-2zM267 262h1v1h-1zM266 263h1v1h-1zM264 264h2v1h-2zM263 265h1v1h-1zM261 266h2v1h-2zM259 267h2v1h-2zM258 268h1v1h-1zM257 269h1v1h-1zM256 270h1v1h-1zM255 271h1v1h-1zM253 272h2v1h-2zM252 273h1v1h-1zM251 274h1v1h-1zM250 275h1v1h-1zM248 276h2v1h-2zM247 277h1v1h-1zM246 278h1v1h-1zM244 279h2v1h-2zM243 280h1v1h-1zM242 281h1v1h-1zM241 282h1v1h-1zM240 283h1v1h-1zM239 284h1v1h-1zM238 285h1v1h-1zM237 286h1v1h-1zM236 287h1v1h-1zM234 288h2v1h-2zM233 289h1v1h-1zM232 290h1v1h-1zM230 291h2v1h-2zM229 292h1v1h-1zM227 293h2v1h-2zM226 294h1v1h-1zM224 295h2v1h-2zM223 296h1v1h-1zM221 297h2v1h-2zM220 298h1v1h-1zM218 299h2v1h-2zM216 300h2v1h-2zM214 301h2v1h-2zM212 302h2v1h-2zM210 303h2v1h-2zM208 304h2v1h-2zM206 305h2v1h-2zM204 306h2v1h-2zM202 307h2v1h-2zM198 308h4v1h-4zM192 309h6v1h-6zM187 310h5v1h-5zM185 311h2v1h-2zM183 312h2v1h-2zM181 313h2v1h-2zM179 314h2v1h-2zM177 315h2v1h-2zM175 316h2v1h-2zM172 317h3v1h-3zM170 318h2v1h-2zM169 319h1v1h-1zM167 320h2v1h-2zM166 321h1v1h-1zM165 322h1v1h-1zM163 323h2v1h-2zM162 324h1v1h-1zM160 325h2v1h-2zM159 326h1v1h-1zM157 327h2v1h-2zM156 328h1v1h-1zM154 329h2v1h-2zM153 330h1v1h-1zM152 331h1v1h-1zM151 332h1v1h-1zM150 333h1v1h-1zM148 334h2v1h-2zM147 335h1v1h-1zM146 336h1v1h-1zM145 337h1v1h-1zM143 338h2v1h-2zM142 339h1v1h-1zM140 340h2v1h-2zM139 341h1v1h-1zM137 342h2v1h-2zM136 343h1v1h-1zM135 344h1v1h-1zM133 345h2v1h-2zM132 346h1v1h-1zM131 347h1v1h-1zM129 348h2v1h-2zM128 349h1v1h-1zM127 350h1v1h-1zM125 351h2v1h-2zM124 352h1v1h-1zM123 353h1v1h-1zM121 354h2v1h-2zM120 355h1v1h-1zM119 356h1v1h-1zM118 357h1v1h-1zM117 358h1v1h-1zM116 359h1v1h-1zM115 360h1v1h-1zM114 361h1v1h-1zM113 362h1v1h-1z" fill="#00ff7f"/>
<path d="M418 123h9v1h-9zM434 123h5v1h-5zM412 124h6v1h-6zM427 124h7v1h-7zM439 124h2v1h-2zM410 125h2v1h-2zM441 125h8v1h-8zM407 126h3v1h-3zM449 126h23v1h-23zM405 127h2v1h-2zM472 127h2v1h-2zM404 128h1v1h-1zM474 128h3v1h-3zM402 129h2v1h-2zM477 129h2v1h-2zM401 130h1v1h-1zM479 130h3v1h-3zM400 131h1v1h-1zM482 131h4v1h-4zM398 132h2v1h-2zM486 132h3v1h-3zM397 133h1v1h-1zM489 133h2v1h-2zM395 134h2v1h-2zM491 134h2v1h-2zM394 135h1v1h-1zM493 135h2v1h-2zM393 136h1v1h-1zM495 136h1v1h-1zM391 137h2v1h-2zM496 137h2v1h-2zM390 138h1v1h-1zM498 138h2v1h-2zM389 139h1v1h-1zM500 139h2v1h-2zM388 140h1v1h-1zM502 140h2v1h-2zM387 141h1v1h-1zM504 141h2v1h-2zM386 142h1v1h-1zM506 142h1v1h-1zM385 143h1v1h-1zM507 143h2v1h-2zM384 144h1v1h-1zM509 144h2v1h-2zM383 145h1v1h-1zM511 145h1v1h-1zM382 146h1v1h-1zM512 146h2v1h-2zM381 147h1v1h-1zM514 147h2v1h-2zM380 148h1v1h-1zM516 148h2v1h-2zM379 149h1v1h-1zM518 149h4v1h-4zM378 150h1v1h-1zM522 150h3v1h-3zM377 151h1v2h-1zM525 151h2v1h-2zM527 152h2v1h-2zM376 153h1v1h-1zM529 153h2v1h-2zM375 154h1v1h-1zM531 154h2v1h-2zM374 155h1v1h-1zM533 155h2v1h-2zM373 156h1v1h-1zM535 156h2v1h-2zM372 157h1v2h-1zM537 157h2v1h-2zM539 158h3v1h-3zM371 159h1v1h-1zM542 159h2v1h-2zM370 160h1v1h-1zM544 160h2v1h-2zM369 161h1v2h-1zM546 161h2v1h-2zM548 162h2v1h-2zM368 163h1v1h-1zM550 163h2v1h-2zM367 164h1v1h-1zM552 164h2v1h-2zM366 165h1v2h-1zM554 165h2v1h-2zM556 166h2v1h-2zM365 167h1v1h-1zM558 167h3v1h-3zM364 168h1v1h-1zM561 168h3v1h-3zM363 169h1v2h-1zM564 169h2v1h-2zM566 170h3v1h-3zM362 171h1v1h-1zM569 171h3v1h-3zM361 172h1v1h-1zM572 172h3v1h-3zM360 173h1v1h-1zM575 173h4v1h-4zM359 174h1v1h-1zM579 174h3v1h-3zM358 175h1v2h-1zM582 175h3v1h-3zM585 176h4v1h-4zM357 177h1v1h-1zM589 177h7v1h-7zM356 178h1v1h-1zM596 178h16v1h-16zM355 179h1v1h-1zM612 179h14v1h-14zM354 180h1v1h-1zM626 180h5v1h-5zM353 181h1v1h-1zM631 181h4v1h-4zM352 182h1v2h-1zM635 182h4v1h-4zM639 183h3v1h-3zM351 184h1v1h-1zM642 184h4v1h-4zM350 185h1v1h-1zM646 185h3v1h-3zM349 186h1v1h-1zM649 186h3v1h-3zM348 187h1v1h-1zM652 187h2v1h-2zM347 188h1v1h-1zM654 188h2v1h-2zM346 189h1v1h-1zM656 189h3v1h-3zM345 190h1v1h-1zM659 190h2v1h-2zM344 191h1v2h-1zM661 191h2v1h-2zM663 192h2v1h-2zM343 193h1v1h-1zM665 193h5v1h-5zM342 194h1v1h-1zM670 194h6v1h-6zM341 195h1v1h-1zM676 195h3v1h-3zM340 196h1v1h-1zM339 197h1v1h-1zM337 198h2v1h-2zM336 199h1v1h-1zM335 200h1v1h-1zM333 201h2v1h-2zM332 202h1v1h-1zM331 203h1v1h-1zM330 204h1v1h-1zM329 205h1v1h-1zM328 206h1v1h-1zM326 207h2v1h-2zM325 208h1v1h-1zM324 209h1v1h-1zM323 210h1v1h-1zM321 211h2v1h-2zM320 212h1v1h-1zM319 213h1v1h-1zM317 214h2v1h-2zM316 215h1v1h-1zM314 216h2v1h-2zM312 217h2v1h-2zM311 218h1v1h-1zM309 219h2v1h-2zM307 220h2v1h-2zM306 221h1v1h-1zM305 222h1v1h-1zM304 223h1v1h-1zM302 224h2v1h-2zM301 225h1v1h-1zM300 226h1v1h-1zM298 227h2v1h-2zM296 228h2v1h-2zM294 229h2v1h-2zM292 230h2v1h-2zM291 231h1v1h-1zM289 232h2v1h-2zM287 233h2v1h-2zM285 234h2v1h-2zM282 235h3v1h-3zM280 236h2v1h-2zM277 237h3v1h-3zM274 238h3v1h-3zM271 239h3v1h-3zM268 240h3v1h-3zM265 241h3v1h-3zM261 242h4v1h-4zM257 243h4v1h-4zM253 244h4v1h-4zM249 245h4v1h-4zM246 246h3v1h-3zM243 247h3v1h-3zM240 248h3v1h-3zM238 249h2v1h-2zM235 250h3v1h-3zM233 251h2v1h-2zM232 252h1v1h-1zM231 253h1v1h-1zM230 254h1v1h-1zM228 255h2v1h-2zM227 256h1v1h-1zM226 257h1v1h-1zM225 258h1v1h-1zM223 259h2v1h-2zM222 260h1v1h-1zM220 261h2v1h-2zM218 262h2v1h-2zM216 263h2v1h-2zM213 264h3v1h-3zM210 265h3v1h-3zM207 266h3v1h-3zM203 267h4v1h-4zM197 268h6v1h-6zM190 269h7v1h-7zM186 270h4v1h-4zM180 271h6v1h-6zM174 272h6v1h-6zM170 273h4v1h-4zM163 274h7v1h-7zM155 275h8v1h-8zM149 276h6v1h-6zM146 277h3v1h-3zM143 278h3v1h-3zM140 279h3v1h-3zM138 280h2v1h-2zM135 281h3v1h-3zM133 282h2v1h-2zM131 283h2v1h-2zM130 284h1v1h-1zM128 285h2v1h-2zM126 286h2v1h-2zM125 287h1v1h-1zM123 288h2v1h-2zM121 289h2v1h-2zM119 290h2v1h-2zM117 291h2v1h-2zM116 292h1v1h-1zM114 293h2v1h-2zM113 294h1v1h-1zM112 295h1v1h-1zM110 296h2v1h-2zM109 297h1v1h-1zM108 298h1v1h-1zM107 299h1v1h-1zM105 300h2v1h-2zM104 301h1v1h-1zM103 302h1v1h-1zM101 303h2v1h-2zM100 304h1v1h-1zM99 305h1v1h-1zM98 306h1v1h-1zM97 307h1v1h-1zM95 308h2v1h-2zM94 309h1v1h-1zM93 310h1v1h-1zM92 311h1v1h-1zM91 312h1v1h-1zM90 313h1v1h-1zM89 314h1v1h-1zM88 315h1v1h-1zM87 316h1v1h-1zM86 317h1v1h-1zM85 318h1v1h-1zM84 319h1v1h-1zM83 320h1v1h-1zM82 321h1v1h-1zM81 322h1v1h-1zM80 323h1v1h-1zM79 324h1v2h-1zM78 326h1v1h-1zM77 327h1v1h-1zM76 328h1v1h-1zM75 329h1v1h-1zM74 330h1v1h-1zM73 331h1v1h-1zM72 332h1v1h-1zM71 333h1v2h-1zM70 335h1v1h-1zM69 336h1v1h-1zM68 337h1v1h-1zM67 338h1v1h-1zM66 339h1v1h-1zM65 340h1v2h-1zM64 342h1v1h-1zM63 343h1v1h-1zM62 344h1v1h-1zM61 345h1v2h-1zM60 347h1v1h-1zM59 348h1v1h-1zM58 349h1v2h-1zM57 351h1v1h-1zM56 352h1v1h-1zM55 353h1v2h-1zM54 355h1v1h-1zM53 356h1v1h-1zM52 357h1v2h-1zM51 359h1v1h-1zM50 360h1v1h-1zM49 361h1v2h-1z" fill="#00bfff"/>
<path d="M386 85h1v1h-1zM385 86h1v1h-1zM387 86h2v1h-2zM384 87h1v1h-1zM389 87h1v1h-1zM383 88h1v1h-1zM390 88h1v1h-1zM382 89h1v1h-1zM391 89h1v2h-1zM381 90h1v1h-1zM379 91h2v1h-2zM392 91h1v2h-1zM378 92h1v1h-1zM377 93h1v1h-1zM393 93h1v2h-1zM375 94h2v1h-2zM374 95h1v1h-1zM394 95h1v2h-1zM373 96h1v1h-1zM372 97h1v2h-1zM395 97h1v3h-1zM371 99h1v1h-1zM370 100h1v1h-1zM396 100h1v2h-1zM369 101h1v1h-1zM310 102h1v1h-1zM368 102h1v1h-1zM397 102h1v3h-1zM309 103h1v1h-1zM311 103h2v1h-2zM367 103h1v1h-1zM307 104h2v1h-2zM313 104h1v1h-1zM366 104h1v1h-1zM306 105h1v1h-1zM314 105h2v1h-2zM365 105h1v1h-1zM398 105h1v2h-1zM305 106h1v1h-1zM316 106h2v1h-2zM364 106h1v1h-1zM303 107h2v1h-2zM318 107h1v1h-1zM363 107h1v1h-1zM399 107h1v1h-1zM302 108h1v1h-1zM319 108h2v1h-2zM362 108h1v1h-1zM400 108h1v2h-1zM301 109h1v1h-1zM321 109h1v1h-1zM361 109h1v1h-1zM299 110h2v1h-2zM322 110h7v1h-7zM360 110h1v1h-1zM401 110h1v1h-1zM298 111h1v1h-1zM329 111h2v1h-2zM359 111h1v1h-1zM402 111h1v1h-1zM297 112h1v2h-1zM331 112h2v1h-2zM358 112h1v1h-1zM403 112h1v2h-1zM333 113h1v1h-1zM357 113h1v1h-1zM296 114h1v2h-1zM334 114h1v1h-1zM356 114h1v2h-1zM404 114h1v1h-1zM335 115h1v2h-1zM405 115h1v2h-1zM295 116h1v2h-1zM355 116h1v1h-1zM336 117h1v2h-1zM354 117h1v1h-1zM406 117h1v1h-1zM294 118h1v2h-1zM353 118h1v2h-1zM407 118h1v2h-1zM337 119h1v2h-1zM293 120h1v1h-1zM352 120h1v1h-1zM408 120h1v2h-1zM292 121h1v2h-1zM338 121h3v1h-3zM351 121h1v2h-1zM341 122h3v1h-3zM409 122h1v2h-1zM291 123h1v1h-1zM344 123h2v1h-2zM349 123h2v1h-2zM290 124h1v1h-1zM346 124h3v1h-3zM410 124h1v2h-1zM289 125h1v2h-1zM411 126h1v2h-1zM288 127h1v1h-1zM287 128h1v2h-1zM412 128h1v2h-1zM285 130h2v1h-2zM413 130h1v2h-1zM282 131h3v1h-3zM280 132h2v1h-2zM414 132h1v2h-1zM278 133h2v1h-2zM277 134h1v2h-1zM415 134h1v2h-1zM276 136h1v1h-1zM416 136h1v2h-1zM275 137h1v2h-1zM417 138h1v2h-1zM274 139h1v2h-1zM418 140h1v2h-1zM273 141h1v2h-1zM419 142h1v2h-1zM272 143h1v2h-1zM420 144h1v2h-1zM271 145h1v2h-1zM421 146h1v2h-1zM262 147h2v1h-2zM270 147h1v1h-1zM261 148h1v2h-1zM264 148h2v1h-2zM269 148h2v1h-2zM422 148h1v2h-1zM266 149h3v1h-3zM260 150h1v2h-1zM423 150h1v2h-1zM259 152h1v2h-1zM424 152h1v2h-1zM258 154h1v2h-1zM425 154h1v2h-1zM257 156h1v1h-1zM426 156h1v2h-1zM594 156h2v1h-2zM605 156h2v1h-2zM256 157h1v2h-1zM592 157h2v1h-2zM596 157h2v1h-2zM601 157h4v1h-4zM607 157h1v1h-1zM427 158h1v1h-1zM590 158h2v1h-2zM598 158h3v1h-3zM608 158h1v1h-1zM255 159h1v1h-1zM428 159h1v1h-1zM589 159h1v1h-1zM609 159h1v1h-1zM254 160h1v2h-1zM429 160h1v1h-1zM438 160h1v1h-1zM588 160h1v1h-1zM610 160h1v1h-1zM430 161h2v1h-2zM437 161h1v1h-1zM439 161h1v1h-1zM587 161h1v1h-1zM611 161h1v1h-1zM253 162h1v2h-1zM432 162h2v1h-2zM435 162h2v1h-2zM440 162h1v1h-1zM466 162h2v1h-2zM586 162h1v1h-1zM612 162h1v2h-1zM434 163h1v1h-1zM441 163h1v1h-1zM464 163h2v1h-2zM468 163h2v1h-2zM585 163h1v1h-1zM252 164h1v2h-1zM442 164h3v1h-3zM461 164h3v1h-3zM470 164h1v1h-1zM583 164h2v1h-2zM613 164h1v1h-1zM445 165h4v1h-4zM458 165h3v1h-3zM471 165h2v1h-2zM582 165h1v1h-1zM614 165h1v1h-1zM251 166h1v2h-1zM449 166h3v1h-3zM457 166h1v1h-1zM473 166h1v1h-1zM581 166h1v1h-1zM615 166h1v1h-1zM452 167h2v1h-2zM455 167h2v1h-2zM474 167h2v1h-2zM580 167h1v2h-1zM616 167h1v1h-1zM250 168h1v2h-1zM454 168h1v1h-1zM476 168h2v1h-2zM481 168h3v1h-3zM617 168h1v1h-1zM478 169h3v1h-3zM484 169h2v1h-2zM579 169h1v1h-1zM618 169h2v1h-2zM249 170h1v1h-1zM486 170h1v1h-1zM578 170h1v1h-1zM620 170h2v1h-2zM248 171h1v2h-1zM487 171h2v1h-2zM577 171h1v2h-1zM622 171h1v1h-1zM489 172h1v1h-1zM623 172h2v1h-2zM247 173h1v1h-1zM490 173h3v1h-3zM576 173h1v2h-1zM625 173h1v1h-1zM246 174h1v2h-1zM493 174h2v1h-2zM626 174h1v1h-1zM495 175h1v2h-1zM575 175h1v2h-1zM627 175h1v1h-1zM245 176h1v3h-1zM628 176h1v1h-1zM496 177h1v1h-1zM574 177h1v1h-1zM629 177h1v1h-1zM497 178h1v2h-1zM573 178h1v2h-1zM630 178h1v1h-1zM244 179h1v4h-1zM631 179h1v2h-1zM498 180h1v1h-1zM572 180h1v2h-1zM499 181h1v1h-1zM632 181h1v2h-1zM500 182h1v2h-1zM571 182h1v2h-1zM243 183h1v3h-1zM633 183h1v2h-1zM501 184h1v1h-1zM570 184h1v1h-1zM502 185h1v1h-1zM569 185h1v2h-1zM634 185h1v1h-1zM242 186h1v4h-1zM503 186h1v1h-1zM635 186h1v1h-1zM504 187h1v1h-1zM568 187h1v1h-1zM636 187h1v1h-1zM505 188h1v1h-1zM567 188h1v2h-1zM637 188h1v1h-1zM506 189h1v1h-1zM638 189h1v1h-1zM241 190h1v5h-1zM507 190h2v1h-2zM566 190h1v1h-1zM639 190h1v2h-1zM509 191h1v1h-1zM565 191h1v1h-1zM510 192h1v1h-1zM564 192h1v1h-1zM640 192h1v1h-1zM511 193h1v1h-1zM563 193h1v1h-1zM641 193h1v2h-1zM98 194h2v1h-2zM512 194h1v2h-1zM562 194h1v1h-1zM97 195h1v1h-1zM100 195h2v1h-2zM240 195h1v5h-1zM561 195h1v1h-1zM642 195h1v1h-1zM96 196h1v2h-1zM102 196h1v1h-1zM513 196h1v1h-1zM560 196h1v1h-1zM643 196h1v2h-1zM103 197h1v2h-1zM514 197h1v1h-1zM559 197h1v1h-1zM95 198h1v1h-1zM515 198h1v1h-1zM558 198h1v1h-1zM644 198h1v2h-1zM94 199h1v1h-1zM104 199h1v2h-1zM516 199h1v2h-1zM557 199h1v2h-1zM92 200h2v1h-2zM239 200h1v5h-1zM645 200h1v2h-1zM89 201h3v1h-3zM105 201h1v2h-1zM517 201h1v1h-1zM556 201h1v1h-1zM85 202h4v1h-4zM518 202h1v1h-1zM555 202h1v2h-1zM646 202h1v1h-1zM82 203h3v1h-3zM106 203h1v1h-1zM519 203h1v1h-1zM647 203h1v1h-1zM81 204h1v1h-1zM107 204h1v2h-1zM520 204h1v2h-1zM554 204h1v1h-1zM648 204h1v2h-1zM80 205h1v1h-1zM238 205h1v5h-1zM553 205h1v2h-1zM79 206h1v1h-1zM108 206h1v2h-1zM521 206h1v1h-1zM649 206h1v1h-1zM78 207h1v2h-1zM522 207h1v1h-1zM552 207h1v1h-1zM650 207h1v1h-1zM109 208h1v2h-1zM523 208h2v1h-2zM551 208h1v2h-1zM651 208h1v1h-1zM77 209h1v2h-1zM525 209h1v1h-1zM652 209h1v2h-1zM110 210h1v2h-1zM237 210h1v4h-1zM526 210h3v1h-3zM550 210h1v1h-1zM76 211h1v2h-1zM529 211h3v1h-3zM549 211h1v1h-1zM653 211h1v1h-1zM111 212h1v2h-1zM532 212h2v1h-2zM547 212h2v1h-2zM654 212h1v1h-1zM75 213h1v2h-1zM534 213h3v1h-3zM541 213h6v1h-6zM655 213h1v1h-1zM112 214h1v2h-1zM236 214h1v5h-1zM537 214h4v1h-4zM656 214h1v2h-1zM74 215h1v2h-1zM113 216h1v2h-1zM657 216h1v1h-1zM73 217h1v2h-1zM658 217h1v1h-1zM114 218h1v2h-1zM659 218h1v2h-1zM72 219h1v2h-1zM235 219h1v4h-1zM115 220h1v2h-1zM660 220h1v2h-1zM71 221h1v2h-1zM116 222h1v2h-1zM661 222h1v2h-1zM70 223h1v1h-1zM234 223h1v4h-1zM69 224h1v2h-1zM117 224h1v2h-1zM662 224h1v1h-1zM663 225h1v1h-1zM68 226h1v2h-1zM118 226h1v2h-1zM664 226h1v1h-1zM233 227h1v4h-1zM665 227h1v1h-1zM67 228h1v2h-1zM119 228h1v2h-1zM666 228h1v1h-1zM667 229h1v1h-1zM66 230h1v1h-1zM120 230h1v2h-1zM668 230h1v1h-1zM677 230h2v1h-2zM65 231h1v2h-1zM232 231h1v4h-1zM669 231h1v1h-1zM673 231h4v1h-4zM121 232h1v2h-1zM670 232h3v1h-3zM64 233h1v2h-1zM122 234h1v2h-1zM63 235h1v2h-1zM231 235h1v4h-1zM123 236h1v2h-1zM62 237h1v2h-1zM124 238h1v2h-1zM61 239h1v3h-1zM230 239h1v3h-1zM125 240h1v2h-1zM60 242h1v2h-1zM126 242h1v2h-1zM229 242h1v4h-1zM59 244h1v3h-1zM127 244h1v2h-1zM128 246h1v2h-1zM228 246h1v4h-1zM58 247h1v2h-1zM129 248h1v2h-1zM57 249h1v2h-1zM130 250h1v2h-1zM227 250h1v4h-1zM56 251h1v1h-1zM55 252h1v2h-1zM131 252h1v2h-1zM54 254h1v1h-1zM132 254h1v2h-1zM226 254h1v3h-1zM53 255h1v2h-1zM133 256h1v2h-1zM52 257h1v2h-1zM225 257h1v4h-1zM134 258h1v3h-1zM51 259h1v2h-1zM50 261h1v3h-1zM135 261h1v3h-1zM224 261h1v4h-1zM49 264h1v3h-1zM136 264h1v4h-1zM223 265h1v4h-1zM48 267h1v2h-1zM137 268h1v3h-1zM47 269h1v3h-1zM222 269h1v4h-1zM138 271h1v3h-1zM46 272h1v3h-1zM221 273h1v2h-1zM139 274h1v2h-1zM45 275h1v3h-1zM220 275h1v3h-1zM140 276h1v2h-1zM44 278h1v3h-1zM141 278h1v2h-1zM219 278h1v2h-1zM142 280h1v2h-1zM218 280h1v3h-1zM43 281h1v3h-1zM143 282h2v1h-2zM145 283h1v1h-1zM217 283h1v2h-1zM42 284h1v3h-1zM146 284h1v1h-1zM147 285h2v1h-2zM216 285h1v2h-1zM149 286h1v1h-1zM41 287h1v3h-1zM150 287h1v1h-1zM215 287h1v2h-1zM151 288h1v1h-1zM152 289h1v2h-1zM214 289h1v3h-1zM40 290h1v2h-1zM153 291h1v1h-1zM39 292h1v3h-1zM154 292h1v1h-1zM213 292h1v2h-1zM155 293h1v2h-1zM212 294h1v2h-1zM38 295h1v3h-1zM156 295h1v1h-1zM157 296h1v2h-1zM211 296h1v2h-1zM37 298h1v2h-1zM158 298h1v1h-1zM210 298h1v3h-1zM159 299h1v1h-1zM36 300h1v3h-1zM160 300h1v1h-1zM161 301h1v1h-1zM209 301h1v3h-1zM162 302h1v1h-1zM35 303h1v2h-1zM163 303h1v2h-1zM208 304h1v3h-1zM34 305h1v3h-1zM164 305h1v2h-1zM165 307h1v2h-1zM207 307h1v3h-1zM33 308h1v2h-1zM166 309h1v1h-1zM32 310h1v2h-1zM167 310h1v1h-1zM206 310h1v2h-1zM168 311h1v1h-1zM31 312h1v2h-1zM169 312h1v1h-1zM205 312h1v2h-1zM170 313h1v1h-1zM30 314h1v2h-1zM171 314h2v1h-2zM189 314h2v1h-2zM204 314h1v1h-1zM173 315h1v1h-1zM185 315h4v1h-4zM191 315h2v1h-2zM203 315h1v2h-1zM29 316h1v2h-1zM174 316h11v1h-11zM193 316h1v1h-1zM194 317h3v1h-3zM201 317h2v1h-2zM28 318h1v2h-1zM197 318h4v1h-4zM27 320h1v2h-1zM26 322h1v1h-1zM25 323h1v2h-1zM24 325h1v1h-1zM23 326h1v2h-1zM22 328h1v1h-1zM20 329h2v1h-2zM18 330h2v1h-2zM17 331h1v2h-1zM16 333h1v2h-1zM15 335h1v2h-1zM14 337h1v2h-1zM13 339h1v2h-1zM12 341h1v1h-1zM11 342h1v2h-1zM10 344h1v1h-1zM9 345h1v1h-1zM8 346h1v2h-1zM7 348h1v1h-1zM5 349h2v1h-2zM2 350h3v1h-3z" fill="#ffff00"/>
<path d="M370 77h2v1h-2zM369 78h1v1h-1zM372 78h2v1h-2zM368 79h1v1h-1zM374 79h1v2h-1zM367 80h1v1h-1zM366 81h1v2h-1zM375 81h1v2h-1zM365 83h1v2h-1zM376 83h1v2h-1zM364 85h1v2h-1zM377 85h1v2h-1zM363 87h1v2h-1zM378 87h3v1h-3zM381 88h4v1h-4zM362 89h1v2h-1zM385 89h2v1h-2zM386 90h1v1h-1zM361 91h1v2h-1zM387 91h1v3h-1zM360 93h1v1h-1zM359 94h1v2h-1zM388 94h1v2h-1zM358 96h1v2h-1zM389 96h1v3h-1zM357 98h1v4h-1zM390 99h1v3h-1zM305 100h6v1h-6zM298 101h7v1h-7zM311 101h1v1h-1zM297 102h1v1h-1zM312 102h1v2h-1zM356 102h1v4h-1zM391 102h1v3h-1zM296 103h1v2h-1zM290 104h2v1h-2zM313 104h1v1h-1zM289 105h1v1h-1zM292 105h2v1h-2zM295 105h1v1h-1zM314 105h1v2h-1zM392 105h1v2h-1zM288 106h1v2h-1zM294 106h1v1h-1zM355 106h1v4h-1zM315 107h1v2h-1zM393 107h1v3h-1zM287 108h1v1h-1zM286 109h1v1h-1zM316 109h1v2h-1zM285 110h1v1h-1zM354 110h1v3h-1zM394 110h1v3h-1zM284 111h1v2h-1zM317 111h1v2h-1zM283 113h1v1h-1zM318 113h1v1h-1zM353 113h1v3h-1zM395 113h1v4h-1zM282 114h1v1h-1zM319 114h1v2h-1zM281 115h1v2h-1zM320 116h1v1h-1zM352 116h1v3h-1zM280 117h1v1h-1zM321 117h1v2h-1zM396 117h1v3h-1zM279 118h1v2h-1zM322 119h3v1h-3zM351 119h1v3h-1zM278 120h1v2h-1zM325 120h3v1h-3zM397 120h1v4h-1zM328 121h2v1h-2zM277 122h1v3h-1zM330 122h2v1h-2zM350 122h1v2h-1zM332 123h2v1h-2zM334 124h1v1h-1zM349 124h1v1h-1zM398 124h1v3h-1zM276 125h1v4h-1zM335 125h1v1h-1zM348 125h1v2h-1zM336 126h1v1h-1zM342 126h2v1h-2zM337 127h1v1h-1zM340 127h2v1h-2zM344 127h2v1h-2zM347 127h1v1h-1zM399 127h1v2h-1zM338 128h2v1h-2zM346 128h1v1h-1zM275 129h1v3h-1zM400 129h1v2h-1zM401 131h1v2h-1zM274 132h1v3h-1zM402 133h1v2h-1zM273 135h1v3h-1zM403 135h1v3h-1zM272 138h1v2h-1zM404 138h1v2h-1zM271 140h1v3h-1zM405 140h1v3h-1zM270 143h1v2h-1zM406 143h1v2h-1zM254 145h5v1h-5zM269 145h1v2h-1zM407 145h2v1h-2zM242 146h3v1h-3zM253 146h1v2h-1zM259 146h2v1h-2zM409 146h1v1h-1zM242 147h1v2h-1zM245 147h2v1h-2zM261 147h1v1h-1zM268 147h1v1h-1zM410 147h1v1h-1zM247 148h1v2h-1zM252 148h1v2h-1zM262 148h2v1h-2zM267 148h1v2h-1zM411 148h1v2h-1zM241 149h1v4h-1zM264 149h2v1h-2zM248 150h1v1h-1zM251 150h1v2h-1zM266 150h1v1h-1zM412 150h1v1h-1zM249 151h1v1h-1zM413 151h1v2h-1zM249 152h2v1h-2zM582 152h5v1h-5zM240 153h1v5h-1zM250 153h1v1h-1zM414 153h1v1h-1zM580 153h2v1h-2zM587 153h1v1h-1zM415 154h1v1h-1zM578 154h2v1h-2zM588 154h1v1h-1zM416 155h1v1h-1zM576 155h2v1h-2zM589 155h1v1h-1zM417 156h1v1h-1zM574 156h2v1h-2zM590 156h3v1h-3zM418 157h1v1h-1zM573 157h1v1h-1zM593 157h2v1h-2zM239 158h1v4h-1zM419 158h1v2h-1zM572 158h1v1h-1zM595 158h1v2h-1zM446 159h5v1h-5zM571 159h1v1h-1zM420 160h1v2h-1zM445 160h1v1h-1zM451 160h1v1h-1zM570 160h1v2h-1zM596 160h1v1h-1zM606 160h1v1h-1zM444 161h1v2h-1zM452 161h1v2h-1zM597 161h1v2h-1zM605 161h1v1h-1zM607 161h1v1h-1zM238 162h1v4h-1zM421 162h1v2h-1zM569 162h1v3h-1zM603 162h2v1h-2zM608 162h1v1h-1zM443 163h1v1h-1zM453 163h1v1h-1zM598 163h5v1h-5zM609 163h1v1h-1zM422 164h1v1h-1zM438 164h5v1h-5zM454 164h1v1h-1zM462 164h3v1h-3zM610 164h1v2h-1zM423 165h1v2h-1zM438 165h1v1h-1zM455 165h2v1h-2zM461 165h1v1h-1zM465 165h2v1h-2zM568 165h1v2h-1zM237 166h1v3h-1zM437 166h1v2h-1zM457 166h1v1h-1zM459 166h2v1h-2zM467 166h1v1h-1zM611 166h1v2h-1zM424 167h1v2h-1zM458 167h1v1h-1zM468 167h1v2h-1zM567 167h1v3h-1zM436 168h1v2h-1zM612 168h1v2h-1zM236 169h1v3h-1zM425 169h1v2h-1zM469 169h1v1h-1zM435 170h1v2h-1zM470 170h6v1h-6zM566 170h1v2h-1zM613 170h1v2h-1zM426 171h1v1h-1zM476 171h2v1h-2zM235 172h1v3h-1zM427 172h2v1h-2zM434 172h1v1h-1zM478 172h6v1h-6zM565 172h1v2h-1zM614 172h1v2h-1zM429 173h1v1h-1zM433 173h2v1h-2zM484 173h2v1h-2zM430 174h3v1h-3zM486 174h2v1h-2zM564 174h1v2h-1zM615 174h2v1h-2zM234 175h1v3h-1zM488 175h2v1h-2zM617 175h1v1h-1zM490 176h2v1h-2zM563 176h1v2h-1zM618 176h1v1h-1zM492 177h2v1h-2zM619 177h1v1h-1zM233 178h1v2h-1zM494 178h1v2h-1zM562 178h1v2h-1zM620 178h1v1h-1zM621 179h1v1h-1zM232 180h1v2h-1zM495 180h1v2h-1zM561 180h1v2h-1zM622 180h1v1h-1zM623 181h1v2h-1zM231 182h1v2h-1zM496 182h1v3h-1zM560 182h1v1h-1zM559 183h1v2h-1zM624 183h1v2h-1zM230 184h1v3h-1zM497 185h1v2h-1zM558 185h1v2h-1zM625 185h1v2h-1zM229 187h1v4h-1zM498 187h1v3h-1zM557 187h1v3h-1zM626 187h1v1h-1zM627 188h1v1h-1zM628 189h1v2h-1zM499 190h1v2h-1zM556 190h1v3h-1zM228 191h1v4h-1zM629 191h1v1h-1zM78 192h3v1h-3zM85 192h3v1h-3zM500 192h1v2h-1zM630 192h1v1h-1zM78 193h1v1h-1zM81 193h4v1h-4zM88 193h2v1h-2zM555 193h1v3h-1zM631 193h1v1h-1zM77 194h1v2h-1zM90 194h2v1h-2zM501 194h1v2h-1zM632 194h1v2h-1zM92 195h2v1h-2zM97 195h2v1h-2zM227 195h1v4h-1zM76 196h1v3h-1zM94 196h3v1h-3zM99 196h1v1h-1zM502 196h1v2h-1zM554 196h1v3h-1zM633 196h1v1h-1zM100 197h1v1h-1zM634 197h1v1h-1zM101 198h1v1h-1zM503 198h1v2h-1zM635 198h1v1h-1zM75 199h1v2h-1zM102 199h1v2h-1zM226 199h1v5h-1zM553 199h1v2h-1zM636 199h1v2h-1zM504 200h1v2h-1zM74 201h1v2h-1zM103 201h1v4h-1zM552 201h1v3h-1zM637 201h1v1h-1zM505 202h1v2h-1zM638 202h1v1h-1zM73 203h1v2h-1zM639 203h1v2h-1zM225 204h1v7h-1zM506 204h1v1h-1zM551 204h1v2h-1zM72 205h1v2h-1zM104 205h1v4h-1zM507 205h1v1h-1zM640 205h1v2h-1zM508 206h1v2h-1zM550 206h1v2h-1zM71 207h1v2h-1zM641 207h1v2h-1zM509 208h1v1h-1zM548 208h2v1h-2zM70 209h1v1h-1zM105 209h1v4h-1zM510 209h1v1h-1zM545 209h3v1h-3zM642 209h1v1h-1zM69 210h1v1h-1zM511 210h1v2h-1zM541 210h4v1h-4zM643 210h1v2h-1zM68 211h1v1h-1zM224 211h1v6h-1zM534 211h7v1h-7zM67 212h1v1h-1zM512 212h1v1h-1zM533 212h1v1h-1zM644 212h1v2h-1zM65 213h2v1h-2zM106 213h1v3h-1zM513 213h1v2h-1zM531 213h2v1h-2zM62 214h3v1h-3zM530 214h1v1h-1zM645 214h1v2h-1zM61 215h1v2h-1zM514 215h3v1h-3zM529 215h1v1h-1zM107 216h1v3h-1zM517 216h8v1h-8zM527 216h2v1h-2zM646 216h1v1h-1zM60 217h1v2h-1zM223 217h1v7h-1zM525 217h2v1h-2zM647 217h1v1h-1zM648 218h1v2h-1zM59 219h1v2h-1zM108 219h1v4h-1zM649 220h1v1h-1zM58 221h1v2h-1zM650 221h1v1h-1zM651 222h1v2h-1zM57 223h1v2h-1zM109 223h1v3h-1zM222 224h1v6h-1zM652 224h1v1h-1zM56 225h1v2h-1zM653 225h1v2h-1zM110 226h1v3h-1zM55 227h1v2h-1zM654 227h1v1h-1zM655 228h1v1h-1zM678 228h1v1h-1zM54 229h1v1h-1zM111 229h1v3h-1zM656 229h1v2h-1zM677 229h1v2h-1zM53 230h1v2h-1zM221 230h1v6h-1zM657 231h1v1h-1zM676 231h1v2h-1zM52 232h1v2h-1zM112 232h1v4h-1zM658 232h1v1h-1zM659 233h1v2h-1zM675 233h1v2h-1zM51 234h1v2h-1zM660 235h1v1h-1zM674 235h1v2h-1zM50 236h1v3h-1zM113 236h1v3h-1zM220 236h1v5h-1zM661 236h1v2h-1zM673 237h1v2h-1zM662 238h1v1h-1zM49 239h1v2h-1zM114 239h1v4h-1zM663 239h2v1h-2zM672 239h1v1h-1zM665 240h1v1h-1zM671 240h1v2h-1zM48 241h1v3h-1zM219 241h1v6h-1zM666 241h3v1h-3zM669 242h2v1h-2zM115 243h1v4h-1zM47 244h1v2h-1zM46 246h1v3h-1zM116 247h1v4h-1zM218 247h1v6h-1zM45 249h1v3h-1zM117 251h1v4h-1zM44 252h1v3h-1zM217 253h1v6h-1zM43 255h1v3h-1zM118 255h1v4h-1zM42 258h1v3h-1zM119 259h1v3h-1zM216 259h1v6h-1zM41 261h1v4h-1zM120 262h1v4h-1zM40 265h1v4h-1zM215 265h1v6h-1zM121 266h1v3h-1zM39 269h1v4h-1zM122 269h1v1h-1zM122 270h5v1h-5zM127 271h2v1h-2zM214 271h1v6h-1zM129 272h1v1h-1zM38 273h1v2h-1zM130 273h1v1h-1zM131 274h1v1h-1zM37 275h1v1h-1zM132 275h1v1h-1zM36 276h1v2h-1zM133 276h1v1h-1zM134 277h1v2h-1zM213 277h1v5h-1zM35 278h1v1h-1zM34 279h1v2h-1zM135 279h1v2h-1zM33 281h1v2h-1zM136 281h1v3h-1zM212 282h1v6h-1zM32 283h1v2h-1zM137 284h1v2h-1zM31 285h1v2h-1zM138 286h1v2h-1zM30 287h1v3h-1zM139 288h1v2h-1zM211 288h1v5h-1zM29 290h1v3h-1zM140 290h1v1h-1zM141 291h1v2h-1zM28 293h1v2h-1zM142 293h1v1h-1zM210 293h1v4h-1zM143 294h1v1h-1zM27 295h1v3h-1zM144 295h1v2h-1zM145 297h1v1h-1zM209 297h1v4h-1zM26 298h1v3h-1zM146 298h1v1h-1zM147 299h2v1h-2zM149 300h1v1h-1zM25 301h1v3h-1zM150 301h1v1h-1zM208 301h1v4h-1zM151 302h1v1h-1zM152 303h1v2h-1zM190 303h1v1h-1zM24 304h1v3h-1zM189 304h1v2h-1zM191 304h2v1h-2zM153 305h1v1h-1zM193 305h1v1h-1zM207 305h1v4h-1zM154 306h2v1h-2zM188 306h1v2h-1zM194 306h1v1h-1zM23 307h1v3h-1zM156 307h2v1h-2zM195 307h1v2h-1zM158 308h1v1h-1zM187 308h1v2h-1zM159 309h2v1h-2zM196 309h1v1h-1zM206 309h1v3h-1zM22 310h1v2h-1zM161 310h1v1h-1zM186 310h1v2h-1zM197 310h1v2h-1zM162 311h1v2h-1zM21 312h1v2h-1zM185 312h1v3h-1zM198 312h2v1h-2zM205 312h1v1h-1zM163 313h1v2h-1zM200 313h2v1h-2zM203 313h2v1h-2zM20 314h1v2h-1zM202 314h1v1h-1zM164 315h1v2h-1zM184 315h1v2h-1zM19 316h1v2h-1zM165 317h1v2h-1zM183 317h1v3h-1zM18 318h1v2h-1zM166 319h1v1h-1zM17 320h1v3h-1zM167 320h1v2h-1zM182 320h1v2h-1zM168 322h1v1h-1zM181 322h1v1h-1zM16 323h1v2h-1zM169 323h1v2h-1zM179 323h2v1h-2zM178 324h1v1h-1zM15 325h1v3h-1zM170 325h2v1h-2zM177 325h1v1h-1zM172 326h2v1h-2zM175 326h2v1h-2zM174 327h1v1h-1zM14 328h1v3h-1zM13 331h1v2h-1zM12 333h1v2h-1zM11 335h1v2h-1zM10 337h1v2h-1zM9 339h1v2h-1zM8 341h1v2h-1zM7 343h1v2h-1zM2 345h5v1h-5z" fill="#ff0000"/>
<path d="M86 372h3v1h-3zM92 372h2v1h-2zM80 373h3v1h-3zM94 373h1v1h-1zM75 374h2v1h-2zM98 374h2v1h-2zM74 375h1v1h-1zM100 375h1v1h-1zM70 376h1v1h-1zM68 377h2v1h-2zM104 377h1v1h-1zM280 377h3v1h-3zM286 377h3v1h-3zM292 377h3v1h-3zM298 377h3v1h-3zM304 377h3v1h-3zM105 378h1v1h-1zM274 378h3v1h-3zM310 378h2v1h-2zM64 379h1v1h-1zM106 379h1v1h-1zM269 379h2v1h-2zM312 379h1v1h-1zM62 380h2v1h-2zM268 380h1v1h-1zM263 381h2v1h-2zM316 381h2v1h-2zM58 382h1v1h-1zM262 382h1v1h-1zM318 382h1v1h-1zM56 383h2v1h-2zM110 383h1v1h-1zM258 383h1v1h-1zM111 384h1v1h-1zM257 384h1v1h-1zM322 384h1v1h-1zM112 385h1v1h-1zM256 385h1v1h-1zM323 385h2v1h-2zM51 386h2v1h-2zM50 387h1v1h-1zM328 388h1v1h-1zM116 389h1v1h-1zM252 389h1v1h-1zM329 389h2v1h-2zM46 390h1v1h-1zM117 390h1v1h-1zM251 390h1v1h-1zM44 391h2v1h-2zM118 391h1v1h-1zM250 391h1v1h-1zM334 392h1v1h-1zM335 393h2v1h-2zM39 394h2v1h-2zM38 395h1v1h-1zM122 395h1v2h-1zM247 395h1v2h-1zM32 396h3v1h-3zM340 396h1v1h-1zM28 397h1v1h-1zM123 397h1v1h-1zM246 397h1v1h-1zM341 397h1v1h-1zM26 398h2v1h-2zM342 398h1v1h-1zM2 399h3v1h-3zM20 399h3v1h-3zM8 400h3v1h-3zM14 400h3v1h-3zM346 400h1v1h-1zM126 401h1v1h-1zM243 401h1v2h-1zM347 401h2v1h-2zM127 402h1v1h-1zM128 403h1v1h-1zM242 403h1v1h-1zM352 404h2v1h-2zM384 404h1v1h-1zM388 404h2v1h-2zM354 405h1v1h-1zM376 405h3v1h-3zM382 405h2v1h-2zM390 405h1v1h-1zM358 406h3v1h-3zM364 406h3v1h-3zM370 406h3v1h-3zM131 407h1v1h-1zM240 407h1v1h-1zM394 407h2v1h-2zM132 408h1v2h-1zM239 408h1v1h-1zM396 408h1v1h-1zM238 409h1v1h-1zM400 410h1v1h-1zM401 411h1v1h-1zM402 412h1v1h-1zM135 413h1v1h-1zM236 413h1v1h-1zM136 414h1v1h-1zM235 414h1v2h-1zM137 415h1v1h-1zM406 415h1v1h-1zM407 416h1v1h-1zM408 417h1v1h-1zM604 418h3v1h-3zM610 418h3v1h-3zM140 419h1v1h-1zM232 419h1v2h-1zM598 419h3v1h-3zM616 419h2v1h-2zM141 420h1v1h-1zM594 420h1v1h-1zM618 420h1v1h-1zM142 421h1v1h-1zM231 421h1v1h-1zM412 421h2v1h-2zM592 421h2v1h-2zM622 421h2v1h-2zM414 422h1v1h-1zM624 422h1v1h-1zM628 423h2v1h-2zM587 424h2v1h-2zM630 424h1v1h-1zM145 425h1v1h-1zM229 425h1v1h-1zM586 425h1v1h-1zM146 426h1v1h-1zM228 426h1v1h-1zM418 426h1v1h-1zM634 426h2v1h-2zM147 427h1v1h-1zM227 427h1v1h-1zM419 427h1v1h-1zM636 427h1v1h-1zM420 428h1v1h-1zM581 428h2v1h-2zM580 429h1v1h-1zM640 429h2v1h-2zM642 430h1v1h-1zM151 431h1v1h-1zM224 431h1v1h-1zM424 431h1v1h-1zM646 431h1v1h-1zM152 432h2v1h-2zM223 432h1v2h-1zM425 432h1v1h-1zM576 432h1v1h-1zM647 432h1v1h-1zM426 433h1v1h-1zM575 433h1v1h-1zM648 433h1v1h-1zM574 434h1v1h-1zM157 436h1v1h-1zM430 436h1v1h-1zM652 436h2v1h-2zM158 437h2v1h-2zM219 437h1v1h-1zM431 437h2v1h-2zM569 437h2v1h-2zM654 437h1v1h-1zM218 438h1v1h-1zM568 438h1v1h-1zM217 439h1v1h-1zM658 439h1v1h-1zM436 440h2v1h-2zM659 440h2v1h-2zM163 441h2v1h-2zM438 441h1v1h-1zM491 441h2v1h-2zM496 441h2v1h-2zM563 441h2v1h-2zM165 442h1v1h-1zM213 442h1v1h-1zM442 442h1v1h-1zM472 442h3v1h-3zM478 442h3v1h-3zM484 442h3v1h-3zM490 442h1v1h-1zM498 442h1v1h-1zM562 442h1v1h-1zM664 442h1v1h-1zM211 443h2v1h-2zM443 443h2v1h-2zM448 443h2v1h-2zM460 443h3v1h-3zM466 443h3v1h-3zM502 443h3v1h-3zM508 443h1v1h-1zM665 443h2v1h-2zM169 444h1v1h-1zM450 444h1v1h-1zM454 444h3v1h-3zM509 444h2v1h-2zM558 444h1v1h-1zM170 445h2v1h-2zM514 445h2v1h-2zM556 445h2v1h-2zM670 445h3v1h-3zM206 446h2v1h-2zM516 446h1v1h-1zM676 446h3v1h-3zM175 447h2v1h-2zM205 447h1v1h-1zM520 447h2v1h-2zM552 447h1v1h-1zM177 448h1v1h-1zM199 448h3v1h-3zM522 448h1v1h-1zM550 448h2v1h-2zM181 449h3v1h-3zM187 449h3v1h-3zM193 449h3v1h-3zM526 449h3v1h-3zM532 449h3v1h-3zM544 449h3v1h-3zM538 450h3v1h-3z" fill="#ff0000"/>

</svg>
<svg width="810" height="460" viewBox="0 0 810 460" font-family="Liberation Sans, sans-serif" font-size="10" fill="#fff" text-rendering="geometricPrecision">
<text x="16.6" y="15" textLength="40.2" lengthAdjust="spacingAndGlyphs" xml:space="preserve" >LLG,Daily</text>
<text x="63.2" y="15" textLength="141.3" lengthAdjust="spacingAndGlyphs" xml:space="preserve" >1915.22 1920.52 1915.02 1920.16</text>
<text x="771.5" y="34" textLength="34" lengthAdjust="spacingAndGlyphs" xml:space="preserve" >2071.30</text>
<text x="771.5" y="67" textLength="34" lengthAdjust="spacingAndGlyphs" xml:space="preserve" >2043.30</text>
<text x="771.5" y="100" textLength="34" lengthAdjust="spacingAndGlyphs" xml:space="preserve" >2015.30</text>
<text x="771.5" y="133" textLength="34" lengthAdjust="spacingAndGlyphs" xml:space="preserve" >1987.30</text>
<text x="771.5" y="166" textLength="34" lengthAdjust="spacingAndGlyphs" xml:space="preserve" >1959.30</text>
<text x="771.5" y="199" textLength="34" lengthAdjust="spacingAndGlyphs" xml:space="preserve" >1931.30</text>
<text x="771.5" y="232" textLength="34" lengthAdjust="spacingAndGlyphs" xml:space="preserve" >1903.30</text>
<text x="771.5" y="265" textLength="34" lengthAdjust="spacingAndGlyphs" xml:space="preserve" >1875.30</text>
<text x="771.5" y="298" textLength="34" lengthAdjust="spacingAndGlyphs" xml:space="preserve" >1847.30</text>
<text x="771.5" y="331" textLength="34" lengthAdjust="spacingAndGlyphs" xml:space="preserve" >1820.10</text>
<text x="771.5" y="364" textLength="34" lengthAdjust="spacingAndGlyphs" xml:space="preserve" >1792.10</text>
<text x="771.5" y="212" textLength="34" lengthAdjust="spacingAndGlyphs" xml:space="preserve" fill="#000">1920.16</text>
<text x="6.8" y="378.6" textLength="133" lengthAdjust="spacingAndGlyphs" xml:space="preserve" >MACD(12,26,9) -10.942 -12.680</text>
<text x="769.5" y="376" textLength="28.5" lengthAdjust="spacingAndGlyphs" xml:space="preserve" >39.699</text>
<text x="770" y="432" textLength="18.5" lengthAdjust="spacingAndGlyphs" xml:space="preserve" >0.00</text>
<text x="770.3" y="456" textLength="31" lengthAdjust="spacingAndGlyphs" xml:space="preserve" >-19.518</text>
</svg>
<svg style="opacity:0.995" width="810" height="460" viewBox="0 0 810 460"><defs><filter id="lb" x="-5%" y="-20%" width="110%" height="140%"><feGaussianBlur stdDeviation="0.3"/></filter></defs><g>
<polygon points="711.00,438.40 723.60,425.80 723.60,428.20 713.40,438.40" fill="#8f8f8f" />
<polygon points="723.60,425.80 736.20,438.40 733.80,438.40 723.60,428.20" fill="#7c7c7c" />
<polygon points="736.20,438.40 723.60,451.00 723.60,448.60 733.80,438.40" fill="#5c4712" />
<polygon points="723.60,451.00 711.00,438.40 713.40,438.40 723.60,448.60" fill="#e2d322" />
<polygon points="713.40,438.40 723.60,428.20 723.60,430.80 716.00,438.40" fill="#d6d6d6" />
<polygon points="723.60,428.20 733.80,438.40 731.20,438.40 723.60,430.80" fill="#b8b8b8" />
<polygon points="733.80,438.40 723.60,448.60 723.60,446.00 731.20,438.40" fill="#6a5416" />
<polygon points="723.60,448.60 713.40,438.40 716.00,438.40 723.60,446.00" fill="#d8c620" />
<polygon points="716.00,438.40 723.60,430.80 723.60,432.80 718.00,438.40" fill="#4a4a4a" />
<polygon points="723.60,430.80 731.20,438.40 729.20,438.40 723.60,432.80" fill="#f4f4f4" />
<polygon points="731.20,438.40 723.60,446.00 723.60,444.00 729.20,438.40" fill="#c9b41c" />
<polygon points="723.60,446.00 716.00,438.40 718.00,438.40 723.60,444.00" fill="#4a3409" />
<polygon points="718.00,438.40 723.60,432.80 729.20,438.40 723.60,444.00" fill="#050505" />
<polygon points="720.20,438.40 723.60,435.00 727.00,438.40 723.60,441.80" fill="none" stroke="#8cc63f" stroke-width="1.1"/>
</g>
<text filter="url(#lb)" x="742.3" y="436.8" font-family="Liberation Sans, sans-serif" font-weight="bold" font-size="9.6" fill="#fff" stroke="#fff" stroke-width="0.35" textLength="57.6" lengthAdjust="spacingAndGlyphs" text-rendering="geometricPrecision" xml:space="preserve">SINO SOUND</text>
<rect x="748.5" y="429.3" width="1.6" height="1.5" fill="#7ac043"/>
<rect x="742.50" y="439.50" width="2.05" height="1.55" fill="#ffffff"/><rect x="742.70" y="441.90" width="2.05" height="1.55" fill="#ffffff"/><rect x="745.10" y="439.90" width="5.85" height="1.4" fill="#ffffff"/><rect x="745.10" y="441.60" width="5.85" height="1.4" fill="#ffffff"/><rect x="745.10" y="443.30" width="5.85" height="1.4" fill="#ffffff"/><rect x="746.30" y="439.20" width="1.4" height="5.45" fill="#ffffff"/><rect x="748.60" y="439.20" width="1.4" height="5.45" fill="#ffffff"/><rect x="744.90" y="444.80" width="6.25" height="1.4" fill="#ffffff"/><line x1="742.60" y1="446.90" x2="744.60" y2="444.10" stroke="#ffffff" stroke-width="1.2"/><line x1="747.60" y1="444.70" x2="745.20" y2="447.00" stroke="#ffffff" stroke-width="1.2"/><line x1="748.20" y1="444.70" x2="750.80" y2="447.00" stroke="#ffffff" stroke-width="1.2"/>
<rect x="758.90" y="439.80" width="8.05" height="1.4" fill="#ffffff"/><rect x="759.20" y="441.40" width="3.65" height="1.4" fill="#ffffff"/><rect x="763.20" y="441.20" width="3.75" height="1.4" fill="#ffffff"/><rect x="760.50" y="439.20" width="1.4" height="3.65" fill="#ffffff"/><rect x="764.40" y="439.20" width="1.4" height="3.45" fill="#ffffff"/><rect x="759.70" y="443.10" width="6.45" height="1.4" fill="#ffffff"/><rect x="759.70" y="444.50" width="6.45" height="1.4" fill="#ffffff"/><rect x="758.90" y="445.90" width="8.05" height="1.4" fill="#ffffff"/><rect x="760.00" y="443.10" width="1.4" height="3.65" fill="#ffffff"/><rect x="764.80" y="443.10" width="1.4" height="3.65" fill="#ffffff"/><rect x="762.40" y="443.10" width="1.4" height="2.85" fill="#ffffff"/>
<rect x="777.30" y="439.50" width="1.4" height="5.05" fill="#ffffff"/><rect x="777.30" y="440.10" width="6.05" height="1.4" fill="#ffffff"/><rect x="777.30" y="441.50" width="5.45" height="1.4" fill="#ffffff"/><rect x="777.30" y="442.90" width="6.05" height="1.4" fill="#ffffff"/><rect x="779.90" y="439.50" width="1.4" height="4.65" fill="#ffffff"/><rect x="775.30" y="444.30" width="8.45" height="1.4" fill="#ffffff"/><rect x="779.00" y="444.10" width="1.4" height="3.25" fill="#ffffff"/><line x1="778.00" y1="439.30" x2="776.10" y2="441.70" stroke="#ffffff" stroke-width="1.2"/><line x1="779.00" y1="445.10" x2="775.70" y2="447.00" stroke="#ffffff" stroke-width="1.2"/><line x1="780.20" y1="445.10" x2="783.40" y2="447.00" stroke="#ffffff" stroke-width="1.2"/>
<rect x="792.10" y="439.20" width="8.05" height="1.4" fill="#ffffff"/><rect x="792.10" y="445.80" width="8.05" height="1.4" fill="#ffffff"/><rect x="792.10" y="439.20" width="1.4" height="7.95" fill="#ffffff"/><rect x="798.80" y="439.20" width="1.4" height="7.95" fill="#ffffff"/><rect x="794.00" y="441.00" width="4.25" height="1.4" fill="#ffffff"/><rect x="794.00" y="442.40" width="4.25" height="1.4" fill="#ffffff"/><rect x="794.00" y="443.80" width="4.25" height="1.4" fill="#ffffff"/><rect x="795.50" y="440.70" width="1.4" height="4.65" fill="#ffffff"/></svg>
</body></html>
